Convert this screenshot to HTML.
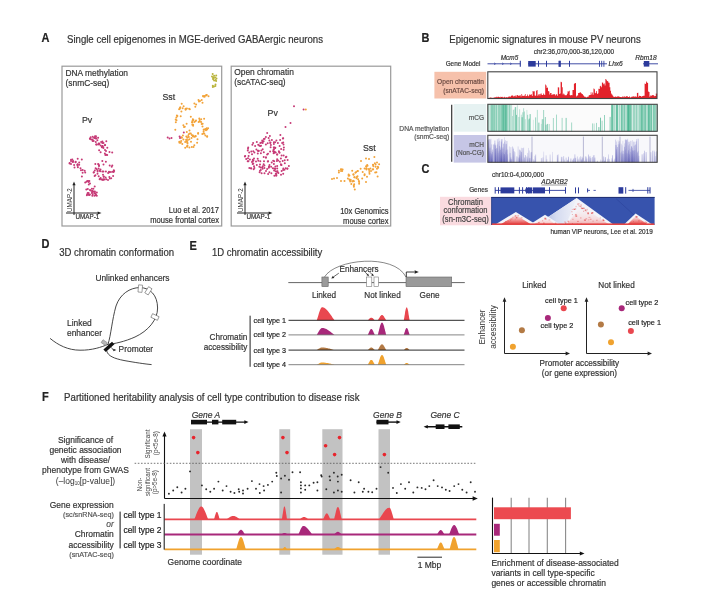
<!DOCTYPE html><html><head><meta charset="utf-8"><style>html,body{margin:0;padding:0;background:#fff;width:709px;height:600px;overflow:hidden}</style></head><body><svg width="709" height="600" viewBox="0 0 709 600" style="display:block;font-family:'Liberation Sans', sans-serif;filter:blur(0.35px)">
<rect width="709" height="600" fill="#fff"/>
<text x="41.5" y="42" font-size="11" text-anchor="start" fill="#222" stroke="#222" stroke-width="0.18" font-weight="bold" font-style="normal" transform="translate(0 42) scale(1 1.08) translate(0 -42)" >A</text>
<text x="67" y="43" font-size="9.6" text-anchor="start" fill="#333333" stroke="#333333" stroke-width="0.18" font-weight="normal" font-style="normal" transform="translate(0 43) scale(1 1.08) translate(0 -43)"  textLength="256" lengthAdjust="spacingAndGlyphs">Single cell epigenomes in MGE-derived GABAergic neurons</text>
<rect x="62" y="66.2" width="159.7" height="159.8" fill="none" stroke="#9a9a9a" stroke-width="1.2" />
<rect x="231.2" y="66.2" width="159.5" height="159.8" fill="none" stroke="#9a9a9a" stroke-width="1.2" />
<text x="65.5" y="75.8" font-size="8.4" text-anchor="start" fill="#333333" stroke="#333333" stroke-width="0.18" font-weight="normal" font-style="normal" transform="translate(0 75.8) scale(1 1.08) translate(0 -75.8)" >DNA methylation</text>
<text x="65.5" y="85.8" font-size="8.4" text-anchor="start" fill="#333333" stroke="#333333" stroke-width="0.18" font-weight="normal" font-style="normal" transform="translate(0 85.8) scale(1 1.08) translate(0 -85.8)" >(snmC-seq)</text>
<text x="234.2" y="75" font-size="8.4" text-anchor="start" fill="#333333" stroke="#333333" stroke-width="0.18" font-weight="normal" font-style="normal" transform="translate(0 75) scale(1 1.08) translate(0 -75)" >Open chromatin</text>
<text x="234.2" y="85.2" font-size="8.4" text-anchor="start" fill="#333333" stroke="#333333" stroke-width="0.18" font-weight="normal" font-style="normal" transform="translate(0 85.2) scale(1 1.08) translate(0 -85.2)" >(scATAC-seq)</text>
<text x="162.4" y="100" font-size="8.8" text-anchor="start" fill="#333333" stroke="#333333" stroke-width="0.18" font-weight="normal" font-style="normal" transform="translate(0 100) scale(1 1.08) translate(0 -100)" >Sst</text>
<text x="82" y="123.5" font-size="8.8" text-anchor="start" fill="#333333" stroke="#333333" stroke-width="0.18" font-weight="normal" font-style="normal" transform="translate(0 123.5) scale(1 1.08) translate(0 -123.5)" >Pv</text>
<text x="267.6" y="115.6" font-size="8.8" text-anchor="start" fill="#333333" stroke="#333333" stroke-width="0.18" font-weight="normal" font-style="normal" transform="translate(0 115.6) scale(1 1.08) translate(0 -115.6)" >Pv</text>
<text x="363" y="151" font-size="8.8" text-anchor="start" fill="#333333" stroke="#333333" stroke-width="0.18" font-weight="normal" font-style="normal" transform="translate(0 151) scale(1 1.08) translate(0 -151)" >Sst</text>
<text x="219" y="212.7" font-size="7.6" text-anchor="end" fill="#333333" stroke="#333333" stroke-width="0.18" font-weight="normal" font-style="normal" transform="translate(0 212.7) scale(1 1.08) translate(0 -212.7)" >Luo et al. 2017</text>
<text x="219" y="222.7" font-size="7.6" text-anchor="end" fill="#333333" stroke="#333333" stroke-width="0.18" font-weight="normal" font-style="normal" transform="translate(0 222.7) scale(1 1.08) translate(0 -222.7)" >mouse frontal cortex</text>
<text x="388.6" y="214.2" font-size="7.6" text-anchor="end" fill="#333333" stroke="#333333" stroke-width="0.18" font-weight="normal" font-style="normal" transform="translate(0 214.2) scale(1 1.08) translate(0 -214.2)" >10x Genomics</text>
<text x="388.6" y="223.6" font-size="7.6" text-anchor="end" fill="#333333" stroke="#333333" stroke-width="0.18" font-weight="normal" font-style="normal" transform="translate(0 223.6) scale(1 1.08) translate(0 -223.6)" >mouse cortex</text>
<line x1="74" y1="215" x2="74" y2="184" stroke="#222" stroke-width="1" />
<polygon points="74.0,181.5 72.4,185.3 75.6,185.3" fill="#222"/>
<line x1="66" y1="213" x2="99" y2="213" stroke="#222" stroke-width="1" />
<polygon points="101.5,213.0 97.7,211.4 97.7,214.6" fill="#222"/>
<text x="75.5" y="219.2" font-size="6.3" text-anchor="start" fill="#333333" stroke="#333333" stroke-width="0.18" font-weight="normal" font-style="normal" transform="translate(0 219.2) scale(1 1.08) translate(0 -219.2)" >UMAP-1</text>
<text x="72" y="212" font-size="6.3" fill="#333333" transform="rotate(-90 72 212)">UMAP-2</text>
<line x1="245" y1="215" x2="245" y2="184" stroke="#222" stroke-width="1" />
<polygon points="245.0,181.5 243.4,185.3 246.6,185.3" fill="#222"/>
<line x1="237" y1="213" x2="270" y2="213" stroke="#222" stroke-width="1" />
<polygon points="272.5,213.0 268.7,211.4 268.7,214.6" fill="#222"/>
<text x="246.5" y="219.2" font-size="6.3" text-anchor="start" fill="#333333" stroke="#333333" stroke-width="0.18" font-weight="normal" font-style="normal" transform="translate(0 219.2) scale(1 1.08) translate(0 -219.2)" >UMAP-1</text>
<text x="243" y="212" font-size="6.3" fill="#333333" transform="rotate(-90 243 212)">UMAP-2</text>
<circle cx="92.7" cy="136.8" r="1.0" fill="#c63a76"/>
<circle cx="96.0" cy="136.3" r="1.0" fill="#c63a76"/>
<circle cx="94.9" cy="138.1" r="1.0" fill="#c63a76"/>
<circle cx="90.1" cy="139.0" r="1.0" fill="#c63a76"/>
<circle cx="89.9" cy="138.6" r="1.0" fill="#c63a76"/>
<circle cx="93.7" cy="141.1" r="1.0" fill="#c63a76"/>
<circle cx="90.7" cy="137.2" r="1.0" fill="#c63a76"/>
<circle cx="95.8" cy="141.9" r="1.0" fill="#c63a76"/>
<circle cx="95.3" cy="138.3" r="1.0" fill="#c63a76"/>
<circle cx="98.1" cy="137.7" r="1.0" fill="#c63a76"/>
<circle cx="92.6" cy="141.0" r="1.0" fill="#c63a76"/>
<circle cx="91.3" cy="139.5" r="1.0" fill="#c63a76"/>
<circle cx="95.9" cy="138.2" r="1.0" fill="#c63a76"/>
<circle cx="95.0" cy="136.2" r="1.0" fill="#c63a76"/>
<circle cx="96.3" cy="138.5" r="1.0" fill="#c63a76"/>
<circle cx="92.6" cy="139.5" r="1.0" fill="#c63a76"/>
<circle cx="94.0" cy="137.7" r="1.0" fill="#c63a76"/>
<circle cx="97.4" cy="140.3" r="1.0" fill="#c63a76"/>
<circle cx="102.3" cy="143.1" r="1.0" fill="#c63a76"/>
<circle cx="103.5" cy="143.0" r="1.0" fill="#c63a76"/>
<circle cx="101.9" cy="147.2" r="1.0" fill="#c63a76"/>
<circle cx="105.0" cy="150.1" r="1.0" fill="#c63a76"/>
<circle cx="109.5" cy="152.0" r="1.0" fill="#c63a76"/>
<circle cx="105.1" cy="145.0" r="1.0" fill="#c63a76"/>
<circle cx="103.2" cy="147.3" r="1.0" fill="#c63a76"/>
<circle cx="112.2" cy="152.4" r="1.0" fill="#c63a76"/>
<circle cx="102.0" cy="146.3" r="1.0" fill="#c63a76"/>
<circle cx="98.9" cy="144.1" r="1.0" fill="#c63a76"/>
<circle cx="99.1" cy="143.8" r="1.0" fill="#c63a76"/>
<circle cx="102.3" cy="146.7" r="1.0" fill="#c63a76"/>
<circle cx="104.9" cy="153.5" r="1.0" fill="#c63a76"/>
<circle cx="106.3" cy="154.7" r="1.0" fill="#c63a76"/>
<circle cx="99.4" cy="143.7" r="1.0" fill="#c63a76"/>
<circle cx="100.5" cy="145.6" r="1.0" fill="#c63a76"/>
<circle cx="106.3" cy="141.2" r="1.0" fill="#c63a76"/>
<circle cx="107.3" cy="147.7" r="1.0" fill="#c63a76"/>
<circle cx="105.4" cy="154.9" r="1.0" fill="#c63a76"/>
<circle cx="104.8" cy="145.3" r="1.0" fill="#c63a76"/>
<circle cx="96.5" cy="144.5" r="1.0" fill="#c63a76"/>
<circle cx="96.2" cy="144.4" r="1.0" fill="#c63a76"/>
<circle cx="98.7" cy="143.4" r="1.0" fill="#c63a76"/>
<circle cx="101.1" cy="142.1" r="1.0" fill="#c63a76"/>
<circle cx="99.1" cy="150.3" r="1.0" fill="#c63a76"/>
<circle cx="103.4" cy="148.1" r="1.0" fill="#c63a76"/>
<circle cx="102.6" cy="146.0" r="1.0" fill="#c63a76"/>
<circle cx="107.2" cy="155.1" r="1.0" fill="#c63a76"/>
<circle cx="100.6" cy="152.3" r="1.0" fill="#c63a76"/>
<circle cx="106.0" cy="151.1" r="1.0" fill="#c63a76"/>
<circle cx="98.1" cy="144.6" r="1.0" fill="#c63a76"/>
<circle cx="102.4" cy="141.4" r="1.0" fill="#c63a76"/>
<circle cx="109.9" cy="178.5" r="1.0" fill="#c63a76"/>
<circle cx="109.4" cy="177.1" r="1.0" fill="#c63a76"/>
<circle cx="97.5" cy="170.2" r="1.0" fill="#c63a76"/>
<circle cx="102.3" cy="161.1" r="1.0" fill="#c63a76"/>
<circle cx="97.5" cy="173.7" r="1.0" fill="#c63a76"/>
<circle cx="113.6" cy="172.0" r="1.0" fill="#c63a76"/>
<circle cx="113.8" cy="170.3" r="1.0" fill="#c63a76"/>
<circle cx="98.6" cy="164.4" r="1.0" fill="#c63a76"/>
<circle cx="98.1" cy="163.9" r="1.0" fill="#c63a76"/>
<circle cx="104.6" cy="179.4" r="1.0" fill="#c63a76"/>
<circle cx="110.9" cy="172.1" r="1.0" fill="#c63a76"/>
<circle cx="105.6" cy="177.5" r="1.0" fill="#c63a76"/>
<circle cx="93.9" cy="172.3" r="1.0" fill="#c63a76"/>
<circle cx="111.2" cy="178.3" r="1.0" fill="#c63a76"/>
<circle cx="109.0" cy="171.7" r="1.0" fill="#c63a76"/>
<circle cx="95.4" cy="175.3" r="1.0" fill="#c63a76"/>
<circle cx="98.7" cy="176.2" r="1.0" fill="#c63a76"/>
<circle cx="114.1" cy="171.0" r="1.0" fill="#c63a76"/>
<circle cx="99.6" cy="179.3" r="1.0" fill="#c63a76"/>
<circle cx="109.7" cy="165.5" r="1.0" fill="#c63a76"/>
<circle cx="94.6" cy="175.9" r="1.0" fill="#c63a76"/>
<circle cx="100.1" cy="171.3" r="1.0" fill="#c63a76"/>
<circle cx="113.1" cy="176.0" r="1.0" fill="#c63a76"/>
<circle cx="102.4" cy="179.6" r="1.0" fill="#c63a76"/>
<circle cx="100.6" cy="178.0" r="1.0" fill="#c63a76"/>
<circle cx="111.7" cy="166.8" r="1.0" fill="#c63a76"/>
<circle cx="99.0" cy="165.9" r="1.0" fill="#c63a76"/>
<circle cx="97.6" cy="171.6" r="1.0" fill="#c63a76"/>
<circle cx="98.6" cy="168.4" r="1.0" fill="#c63a76"/>
<circle cx="100.5" cy="169.5" r="1.0" fill="#c63a76"/>
<circle cx="103.7" cy="179.3" r="1.0" fill="#c63a76"/>
<circle cx="100.1" cy="178.8" r="1.0" fill="#c63a76"/>
<circle cx="103.4" cy="171.6" r="1.0" fill="#c63a76"/>
<circle cx="105.9" cy="161.7" r="1.0" fill="#c63a76"/>
<circle cx="103.5" cy="164.5" r="1.0" fill="#c63a76"/>
<circle cx="96.5" cy="169.0" r="1.0" fill="#c63a76"/>
<circle cx="108.1" cy="173.1" r="1.0" fill="#c63a76"/>
<circle cx="99.7" cy="170.6" r="1.0" fill="#c63a76"/>
<circle cx="103.6" cy="176.8" r="1.0" fill="#c63a76"/>
<circle cx="94.8" cy="170.5" r="1.0" fill="#c63a76"/>
<circle cx="99.0" cy="165.5" r="1.0" fill="#c63a76"/>
<circle cx="109.3" cy="172.3" r="1.0" fill="#c63a76"/>
<circle cx="103.8" cy="176.4" r="1.0" fill="#c63a76"/>
<circle cx="112.6" cy="171.7" r="1.0" fill="#c63a76"/>
<circle cx="105.9" cy="171.6" r="1.0" fill="#c63a76"/>
<circle cx="103.0" cy="174.8" r="1.0" fill="#c63a76"/>
<circle cx="102.3" cy="171.4" r="1.0" fill="#c63a76"/>
<circle cx="101.3" cy="179.6" r="1.0" fill="#c63a76"/>
<circle cx="106.3" cy="179.3" r="1.0" fill="#c63a76"/>
<circle cx="103.0" cy="179.9" r="1.0" fill="#c63a76"/>
<circle cx="112.3" cy="165.4" r="1.0" fill="#c63a76"/>
<circle cx="95.6" cy="168.2" r="1.0" fill="#c63a76"/>
<circle cx="95.3" cy="164.0" r="1.0" fill="#c63a76"/>
<circle cx="93.6" cy="172.5" r="1.0" fill="#c63a76"/>
<circle cx="108.0" cy="180.0" r="1.0" fill="#c63a76"/>
<circle cx="73.0" cy="162.0" r="1.0" fill="#c63a76"/>
<circle cx="81.9" cy="176.6" r="1.0" fill="#c63a76"/>
<circle cx="81.8" cy="159.4" r="1.0" fill="#c63a76"/>
<circle cx="77.7" cy="164.3" r="1.0" fill="#c63a76"/>
<circle cx="75.7" cy="161.8" r="1.0" fill="#c63a76"/>
<circle cx="77.6" cy="165.8" r="1.0" fill="#c63a76"/>
<circle cx="80.5" cy="168.2" r="1.0" fill="#c63a76"/>
<circle cx="85.2" cy="172.6" r="1.0" fill="#c63a76"/>
<circle cx="71.0" cy="161.1" r="1.0" fill="#c63a76"/>
<circle cx="82.6" cy="172.8" r="1.0" fill="#c63a76"/>
<circle cx="71.0" cy="163.9" r="1.0" fill="#c63a76"/>
<circle cx="72.3" cy="159.4" r="1.0" fill="#c63a76"/>
<circle cx="69.6" cy="163.5" r="1.0" fill="#c63a76"/>
<circle cx="84.7" cy="170.8" r="1.0" fill="#c63a76"/>
<circle cx="79.2" cy="164.7" r="1.0" fill="#c63a76"/>
<circle cx="73.1" cy="160.9" r="1.0" fill="#c63a76"/>
<circle cx="72.4" cy="161.8" r="1.0" fill="#c63a76"/>
<circle cx="74.1" cy="164.9" r="1.0" fill="#c63a76"/>
<circle cx="77.9" cy="167.3" r="1.0" fill="#c63a76"/>
<circle cx="71.0" cy="159.7" r="1.0" fill="#c63a76"/>
<circle cx="77.7" cy="158.7" r="1.0" fill="#c63a76"/>
<circle cx="74.5" cy="167.6" r="1.0" fill="#c63a76"/>
<circle cx="79.2" cy="162.5" r="1.0" fill="#c63a76"/>
<circle cx="82.7" cy="169.9" r="1.0" fill="#c63a76"/>
<circle cx="77.3" cy="164.8" r="1.0" fill="#c63a76"/>
<circle cx="81.0" cy="170.3" r="1.0" fill="#c63a76"/>
<circle cx="69.6" cy="162.9" r="1.0" fill="#c63a76"/>
<circle cx="75.5" cy="162.2" r="1.0" fill="#c63a76"/>
<circle cx="90.0" cy="183.5" r="1.0" fill="#c63a76"/>
<circle cx="91.9" cy="188.7" r="1.0" fill="#c63a76"/>
<circle cx="88.8" cy="184.5" r="1.0" fill="#c63a76"/>
<circle cx="87.8" cy="188.9" r="1.0" fill="#c63a76"/>
<circle cx="87.3" cy="180.9" r="1.0" fill="#c63a76"/>
<circle cx="86.5" cy="181.8" r="1.0" fill="#c63a76"/>
<circle cx="94.7" cy="186.5" r="1.0" fill="#c63a76"/>
<circle cx="94.9" cy="191.4" r="1.0" fill="#c63a76"/>
<circle cx="89.9" cy="194.6" r="1.0" fill="#c63a76"/>
<circle cx="92.5" cy="191.2" r="1.0" fill="#c63a76"/>
<circle cx="90.0" cy="190.1" r="1.0" fill="#c63a76"/>
<circle cx="92.1" cy="190.8" r="1.0" fill="#c63a76"/>
<circle cx="86.3" cy="189.5" r="1.0" fill="#c63a76"/>
<circle cx="89.4" cy="180.9" r="1.0" fill="#c63a76"/>
<circle cx="85.2" cy="182.6" r="1.0" fill="#c63a76"/>
<circle cx="93.4" cy="188.8" r="1.0" fill="#c63a76"/>
<circle cx="90.6" cy="190.6" r="1.0" fill="#c63a76"/>
<circle cx="88.2" cy="181.1" r="1.0" fill="#c63a76"/>
<circle cx="88.6" cy="182.0" r="1.0" fill="#c63a76"/>
<circle cx="86.9" cy="195.2" r="1.0" fill="#c63a76"/>
<circle cx="92.3" cy="195.7" r="1.0" fill="#c63a76"/>
<circle cx="95.4" cy="195.2" r="1.0" fill="#c63a76"/>
<circle cx="94.1" cy="191.8" r="1.0" fill="#c63a76"/>
<circle cx="88.6" cy="192.9" r="1.0" fill="#c63a76"/>
<circle cx="95.2" cy="193.2" r="1.0" fill="#c63a76"/>
<circle cx="93.2" cy="191.4" r="1.0" fill="#c63a76"/>
<circle cx="87.7" cy="193.0" r="1.0" fill="#c63a76"/>
<circle cx="94.4" cy="195.7" r="1.0" fill="#c63a76"/>
<circle cx="94.4" cy="193.2" r="1.0" fill="#c63a76"/>
<circle cx="92.7" cy="194.3" r="1.0" fill="#c63a76"/>
<circle cx="92.1" cy="192.1" r="1.0" fill="#c63a76"/>
<circle cx="96.8" cy="192.6" r="1.0" fill="#c63a76"/>
<circle cx="87.2" cy="194.2" r="1.0" fill="#c63a76"/>
<circle cx="91.9" cy="193.0" r="1.0" fill="#c63a76"/>
<circle cx="89.3" cy="195.0" r="1.0" fill="#c63a76"/>
<circle cx="88.6" cy="194.7" r="1.0" fill="#c63a76"/>
<circle cx="96.0" cy="194.6" r="1.0" fill="#c63a76"/>
<circle cx="96.8" cy="195.8" r="1.0" fill="#c63a76"/>
<circle cx="213.0" cy="78.1" r="1.0" fill="#b9b43c"/>
<circle cx="216.1" cy="80.9" r="1.0" fill="#b9b43c"/>
<circle cx="214.1" cy="75.7" r="1.0" fill="#b9b43c"/>
<circle cx="215.5" cy="84.4" r="1.0" fill="#b9b43c"/>
<circle cx="212.8" cy="87.0" r="1.0" fill="#b9b43c"/>
<circle cx="215.7" cy="80.1" r="1.0" fill="#b9b43c"/>
<circle cx="216.5" cy="78.6" r="1.0" fill="#b9b43c"/>
<circle cx="214.0" cy="86.6" r="1.0" fill="#b9b43c"/>
<circle cx="215.2" cy="77.6" r="1.0" fill="#b9b43c"/>
<circle cx="212.8" cy="85.7" r="1.0" fill="#b9b43c"/>
<circle cx="214.1" cy="80.5" r="1.0" fill="#b9b43c"/>
<circle cx="212.7" cy="74.0" r="1.0" fill="#b9b43c"/>
<circle cx="215.4" cy="86.1" r="1.0" fill="#b9b43c"/>
<circle cx="212.0" cy="76.6" r="1.0" fill="#b9b43c"/>
<circle cx="213.8" cy="77.9" r="1.0" fill="#b9b43c"/>
<circle cx="213.1" cy="79.2" r="1.0" fill="#b9b43c"/>
<circle cx="213.5" cy="77.2" r="1.0" fill="#b9b43c"/>
<circle cx="216.2" cy="75.6" r="1.0" fill="#b9b43c"/>
<circle cx="201.7" cy="100.1" r="1.0" fill="#f2a33a"/>
<circle cx="206.0" cy="95.6" r="1.0" fill="#f2a33a"/>
<circle cx="198.5" cy="100.0" r="1.0" fill="#f2a33a"/>
<circle cx="200.0" cy="100.9" r="1.0" fill="#f2a33a"/>
<circle cx="208.5" cy="96.2" r="1.0" fill="#f2a33a"/>
<circle cx="199.0" cy="101.4" r="1.0" fill="#f2a33a"/>
<circle cx="204.6" cy="96.8" r="1.0" fill="#f2a33a"/>
<circle cx="196.1" cy="104.4" r="1.0" fill="#f2a33a"/>
<circle cx="206.7" cy="94.9" r="1.0" fill="#f2a33a"/>
<circle cx="206.5" cy="95.1" r="1.0" fill="#f2a33a"/>
<circle cx="194.4" cy="103.4" r="1.0" fill="#f2a33a"/>
<circle cx="204.4" cy="95.9" r="1.0" fill="#f2a33a"/>
<circle cx="195.3" cy="106.8" r="1.0" fill="#f2a33a"/>
<circle cx="202.5" cy="102.7" r="1.0" fill="#f2a33a"/>
<circle cx="203.0" cy="96.1" r="1.0" fill="#f2a33a"/>
<circle cx="203.4" cy="96.6" r="1.0" fill="#f2a33a"/>
<circle cx="179.1" cy="109.3" r="1.0" fill="#f2a33a"/>
<circle cx="180.3" cy="107.3" r="1.0" fill="#f2a33a"/>
<circle cx="181.7" cy="103.8" r="1.0" fill="#f2a33a"/>
<circle cx="183.6" cy="106.2" r="1.0" fill="#f2a33a"/>
<circle cx="189.1" cy="108.7" r="1.0" fill="#f2a33a"/>
<circle cx="185.6" cy="108.8" r="1.0" fill="#f2a33a"/>
<circle cx="185.6" cy="109.7" r="1.0" fill="#f2a33a"/>
<circle cx="182.6" cy="108.2" r="1.0" fill="#f2a33a"/>
<circle cx="186.9" cy="108.6" r="1.0" fill="#f2a33a"/>
<circle cx="181.4" cy="111.6" r="1.0" fill="#f2a33a"/>
<circle cx="179.8" cy="108.8" r="1.0" fill="#f2a33a"/>
<circle cx="179.9" cy="108.1" r="1.0" fill="#f2a33a"/>
<circle cx="185.7" cy="108.9" r="1.0" fill="#f2a33a"/>
<circle cx="189.8" cy="109.3" r="1.0" fill="#f2a33a"/>
<circle cx="180.7" cy="116.2" r="1.0" fill="#f2a33a"/>
<circle cx="175.3" cy="129.7" r="1.0" fill="#f2a33a"/>
<circle cx="176.4" cy="117.4" r="1.0" fill="#f2a33a"/>
<circle cx="176.5" cy="120.3" r="1.0" fill="#f2a33a"/>
<circle cx="177.4" cy="115.9" r="1.0" fill="#f2a33a"/>
<circle cx="176.9" cy="115.5" r="1.0" fill="#f2a33a"/>
<circle cx="175.7" cy="119.4" r="1.0" fill="#f2a33a"/>
<circle cx="175.8" cy="122.3" r="1.0" fill="#f2a33a"/>
<circle cx="195.4" cy="121.3" r="1.0" fill="#f2a33a"/>
<circle cx="189.5" cy="130.6" r="1.0" fill="#f2a33a"/>
<circle cx="190.8" cy="116.7" r="1.0" fill="#f2a33a"/>
<circle cx="186.8" cy="132.0" r="1.0" fill="#f2a33a"/>
<circle cx="189.8" cy="133.4" r="1.0" fill="#f2a33a"/>
<circle cx="194.3" cy="122.0" r="1.0" fill="#f2a33a"/>
<circle cx="190.8" cy="133.5" r="1.0" fill="#f2a33a"/>
<circle cx="192.3" cy="124.7" r="1.0" fill="#f2a33a"/>
<circle cx="192.2" cy="122.4" r="1.0" fill="#f2a33a"/>
<circle cx="192.8" cy="119.3" r="1.0" fill="#f2a33a"/>
<circle cx="203.6" cy="129.8" r="1.0" fill="#f2a33a"/>
<circle cx="201.1" cy="122.1" r="1.0" fill="#f2a33a"/>
<circle cx="201.2" cy="119.2" r="1.0" fill="#f2a33a"/>
<circle cx="202.5" cy="126.5" r="1.0" fill="#f2a33a"/>
<circle cx="203.6" cy="131.5" r="1.0" fill="#f2a33a"/>
<circle cx="202.6" cy="123.8" r="1.0" fill="#f2a33a"/>
<circle cx="204.1" cy="118.7" r="1.0" fill="#f2a33a"/>
<circle cx="207.1" cy="129.4" r="1.0" fill="#f2a33a"/>
<circle cx="205.9" cy="129.5" r="1.0" fill="#f2a33a"/>
<circle cx="199.6" cy="120.0" r="1.0" fill="#f2a33a"/>
<circle cx="199.3" cy="118.5" r="1.0" fill="#f2a33a"/>
<circle cx="203.6" cy="133.3" r="1.0" fill="#f2a33a"/>
<circle cx="207.2" cy="136.3" r="1.0" fill="#f2a33a"/>
<circle cx="205.4" cy="135.4" r="1.0" fill="#f2a33a"/>
<circle cx="205.5" cy="128.9" r="1.0" fill="#f2a33a"/>
<circle cx="202.3" cy="134.0" r="1.0" fill="#f2a33a"/>
<circle cx="207.1" cy="136.8" r="1.0" fill="#f2a33a"/>
<circle cx="208.1" cy="128.3" r="1.0" fill="#f2a33a"/>
<circle cx="206.0" cy="130.2" r="1.0" fill="#f2a33a"/>
<circle cx="204.3" cy="133.8" r="1.0" fill="#f2a33a"/>
<circle cx="206.7" cy="128.2" r="1.0" fill="#f2a33a"/>
<circle cx="204.2" cy="129.5" r="1.0" fill="#f2a33a"/>
<circle cx="186.9" cy="141.8" r="1.0" fill="#f2a33a"/>
<circle cx="191.8" cy="134.9" r="1.0" fill="#f2a33a"/>
<circle cx="182.3" cy="143.9" r="1.0" fill="#f2a33a"/>
<circle cx="187.2" cy="137.7" r="1.0" fill="#f2a33a"/>
<circle cx="185.2" cy="147.8" r="1.0" fill="#f2a33a"/>
<circle cx="185.2" cy="142.0" r="1.0" fill="#f2a33a"/>
<circle cx="186.1" cy="139.7" r="1.0" fill="#f2a33a"/>
<circle cx="186.3" cy="136.5" r="1.0" fill="#f2a33a"/>
<circle cx="193.6" cy="136.6" r="1.0" fill="#f2a33a"/>
<circle cx="187.5" cy="145.8" r="1.0" fill="#f2a33a"/>
<circle cx="187.1" cy="146.7" r="1.0" fill="#f2a33a"/>
<circle cx="188.2" cy="135.9" r="1.0" fill="#f2a33a"/>
<circle cx="179.3" cy="141.8" r="1.0" fill="#f2a33a"/>
<circle cx="191.8" cy="147.1" r="1.0" fill="#f2a33a"/>
<circle cx="180.8" cy="142.8" r="1.0" fill="#f2a33a"/>
<circle cx="186.4" cy="141.1" r="1.0" fill="#f2a33a"/>
<circle cx="181.9" cy="137.7" r="1.0" fill="#f2a33a"/>
<circle cx="189.4" cy="147.4" r="1.0" fill="#f2a33a"/>
<circle cx="181.2" cy="140.9" r="1.0" fill="#f2a33a"/>
<circle cx="182.9" cy="135.4" r="1.0" fill="#f2a33a"/>
<circle cx="188.7" cy="134.3" r="1.0" fill="#f2a33a"/>
<circle cx="197.5" cy="139.3" r="1.0" fill="#f2a33a"/>
<circle cx="197.1" cy="142.8" r="1.0" fill="#f2a33a"/>
<circle cx="195.5" cy="135.9" r="1.0" fill="#f2a33a"/>
<circle cx="194.7" cy="136.8" r="1.0" fill="#f2a33a"/>
<circle cx="187.1" cy="146.2" r="1.0" fill="#f2a33a"/>
<circle cx="195.6" cy="136.2" r="1.0" fill="#f2a33a"/>
<circle cx="183.4" cy="139.5" r="1.0" fill="#f2a33a"/>
<circle cx="189.4" cy="139.3" r="1.0" fill="#f2a33a"/>
<circle cx="181.5" cy="137.2" r="1.0" fill="#f2a33a"/>
<circle cx="193.5" cy="147.0" r="1.0" fill="#f2a33a"/>
<circle cx="179.8" cy="141.9" r="1.0" fill="#f2a33a"/>
<circle cx="191.0" cy="141.8" r="1.0" fill="#f2a33a"/>
<circle cx="191.5" cy="138.1" r="1.0" fill="#f2a33a"/>
<circle cx="187.4" cy="142.2" r="1.0" fill="#f2a33a"/>
<circle cx="187.5" cy="143.4" r="1.0" fill="#f2a33a"/>
<circle cx="187.9" cy="140.1" r="1.0" fill="#f2a33a"/>
<circle cx="179.5" cy="142.8" r="1.0" fill="#f2a33a"/>
<circle cx="188.8" cy="137.0" r="1.0" fill="#f2a33a"/>
<circle cx="194.3" cy="145.2" r="1.0" fill="#f2a33a"/>
<circle cx="192.1" cy="122.2" r="1.0" fill="#f2a33a"/>
<circle cx="192.4" cy="120.9" r="1.0" fill="#f2a33a"/>
<circle cx="184.8" cy="126.8" r="1.0" fill="#f2a33a"/>
<circle cx="184.0" cy="127.0" r="1.0" fill="#f2a33a"/>
<circle cx="193.2" cy="119.7" r="1.0" fill="#f2a33a"/>
<circle cx="196.0" cy="120.5" r="1.0" fill="#f2a33a"/>
<circle cx="198.1" cy="133.0" r="1.0" fill="#f2a33a"/>
<circle cx="193.3" cy="120.0" r="1.0" fill="#f2a33a"/>
<circle cx="193.1" cy="125.8" r="1.0" fill="#f2a33a"/>
<circle cx="198.1" cy="133.7" r="1.0" fill="#f2a33a"/>
<circle cx="192.8" cy="136.2" r="1.0" fill="#f2a33a"/>
<circle cx="183.4" cy="125.3" r="1.0" fill="#f2a33a"/>
<circle cx="198.6" cy="121.9" r="1.0" fill="#f2a33a"/>
<circle cx="201.7" cy="123.9" r="1.0" fill="#f2a33a"/>
<circle cx="199.9" cy="121.6" r="1.0" fill="#f2a33a"/>
<circle cx="193.0" cy="135.6" r="1.0" fill="#f2a33a"/>
<circle cx="186.6" cy="123.7" r="1.0" fill="#f2a33a"/>
<circle cx="193.1" cy="124.7" r="1.0" fill="#f2a33a"/>
<circle cx="167.7" cy="137.5" r="1.0" fill="#c63a76"/>
<circle cx="169.5" cy="138.5" r="1.0" fill="#c63a76"/>
<circle cx="171.5" cy="138.0" r="1.0" fill="#c63a76"/>
<circle cx="179.6" cy="136.6" r="1.0" fill="#c63a76"/>
<circle cx="180.0" cy="138.0" r="1.0" fill="#c63a76"/>
<circle cx="183.8" cy="132.4" r="1.0" fill="#c63a76"/>
<circle cx="276.3" cy="173.9" r="1.0" fill="#c63a76"/>
<circle cx="251.3" cy="168.5" r="1.0" fill="#c63a76"/>
<circle cx="248.6" cy="156.0" r="1.0" fill="#c63a76"/>
<circle cx="274.2" cy="147.6" r="1.0" fill="#c63a76"/>
<circle cx="285.8" cy="157.2" r="1.0" fill="#c63a76"/>
<circle cx="271.4" cy="173.2" r="1.0" fill="#c63a76"/>
<circle cx="273.9" cy="149.3" r="1.0" fill="#c63a76"/>
<circle cx="282.1" cy="143.0" r="1.0" fill="#c63a76"/>
<circle cx="260.7" cy="167.5" r="1.0" fill="#c63a76"/>
<circle cx="264.7" cy="138.7" r="1.0" fill="#c63a76"/>
<circle cx="283.2" cy="142.4" r="1.0" fill="#c63a76"/>
<circle cx="271.7" cy="162.5" r="1.0" fill="#c63a76"/>
<circle cx="273.2" cy="151.2" r="1.0" fill="#c63a76"/>
<circle cx="268.1" cy="173.9" r="1.0" fill="#c63a76"/>
<circle cx="248.2" cy="147.5" r="1.0" fill="#c63a76"/>
<circle cx="254.0" cy="158.6" r="1.0" fill="#c63a76"/>
<circle cx="271.9" cy="140.0" r="1.0" fill="#c63a76"/>
<circle cx="273.6" cy="153.3" r="1.0" fill="#c63a76"/>
<circle cx="247.7" cy="161.3" r="1.0" fill="#c63a76"/>
<circle cx="285.7" cy="168.3" r="1.0" fill="#c63a76"/>
<circle cx="262.7" cy="142.9" r="1.0" fill="#c63a76"/>
<circle cx="270.6" cy="147.2" r="1.0" fill="#c63a76"/>
<circle cx="274.6" cy="151.7" r="1.0" fill="#c63a76"/>
<circle cx="288.9" cy="165.9" r="1.0" fill="#c63a76"/>
<circle cx="245.2" cy="156.0" r="1.0" fill="#c63a76"/>
<circle cx="262.9" cy="141.6" r="1.0" fill="#c63a76"/>
<circle cx="252.8" cy="159.8" r="1.0" fill="#c63a76"/>
<circle cx="267.8" cy="161.4" r="1.0" fill="#c63a76"/>
<circle cx="282.9" cy="138.6" r="1.0" fill="#c63a76"/>
<circle cx="258.2" cy="144.7" r="1.0" fill="#c63a76"/>
<circle cx="281.4" cy="165.1" r="1.0" fill="#c63a76"/>
<circle cx="279.5" cy="152.8" r="1.0" fill="#c63a76"/>
<circle cx="279.3" cy="152.2" r="1.0" fill="#c63a76"/>
<circle cx="259.4" cy="166.7" r="1.0" fill="#c63a76"/>
<circle cx="277.1" cy="171.4" r="1.0" fill="#c63a76"/>
<circle cx="277.9" cy="143.0" r="1.0" fill="#c63a76"/>
<circle cx="270.1" cy="151.4" r="1.0" fill="#c63a76"/>
<circle cx="281.6" cy="155.6" r="1.0" fill="#c63a76"/>
<circle cx="256.0" cy="161.5" r="1.0" fill="#c63a76"/>
<circle cx="279.6" cy="146.0" r="1.0" fill="#c63a76"/>
<circle cx="273.9" cy="163.9" r="1.0" fill="#c63a76"/>
<circle cx="266.0" cy="171.1" r="1.0" fill="#c63a76"/>
<circle cx="277.2" cy="172.0" r="1.0" fill="#c63a76"/>
<circle cx="264.4" cy="165.5" r="1.0" fill="#c63a76"/>
<circle cx="270.9" cy="145.1" r="1.0" fill="#c63a76"/>
<circle cx="253.4" cy="160.5" r="1.0" fill="#c63a76"/>
<circle cx="276.9" cy="161.1" r="1.0" fill="#c63a76"/>
<circle cx="277.2" cy="166.1" r="1.0" fill="#c63a76"/>
<circle cx="246.2" cy="158.9" r="1.0" fill="#c63a76"/>
<circle cx="260.8" cy="170.1" r="1.0" fill="#c63a76"/>
<circle cx="283.2" cy="173.7" r="1.0" fill="#c63a76"/>
<circle cx="284.5" cy="169.8" r="1.0" fill="#c63a76"/>
<circle cx="274.1" cy="170.4" r="1.0" fill="#c63a76"/>
<circle cx="273.9" cy="144.1" r="1.0" fill="#c63a76"/>
<circle cx="280.1" cy="140.0" r="1.0" fill="#c63a76"/>
<circle cx="258.6" cy="150.8" r="1.0" fill="#c63a76"/>
<circle cx="256.8" cy="165.1" r="1.0" fill="#c63a76"/>
<circle cx="261.0" cy="145.7" r="1.0" fill="#c63a76"/>
<circle cx="284.7" cy="160.3" r="1.0" fill="#c63a76"/>
<circle cx="264.4" cy="167.9" r="1.0" fill="#c63a76"/>
<circle cx="260.0" cy="164.5" r="1.0" fill="#c63a76"/>
<circle cx="269.4" cy="140.6" r="1.0" fill="#c63a76"/>
<circle cx="283.2" cy="138.3" r="1.0" fill="#c63a76"/>
<circle cx="267.1" cy="169.0" r="1.0" fill="#c63a76"/>
<circle cx="252.0" cy="154.2" r="1.0" fill="#c63a76"/>
<circle cx="260.0" cy="170.8" r="1.0" fill="#c63a76"/>
<circle cx="277.3" cy="154.4" r="1.0" fill="#c63a76"/>
<circle cx="248.4" cy="161.2" r="1.0" fill="#c63a76"/>
<circle cx="277.2" cy="168.6" r="1.0" fill="#c63a76"/>
<circle cx="273.8" cy="147.4" r="1.0" fill="#c63a76"/>
<circle cx="262.7" cy="149.3" r="1.0" fill="#c63a76"/>
<circle cx="253.1" cy="142.9" r="1.0" fill="#c63a76"/>
<circle cx="261.6" cy="173.3" r="1.0" fill="#c63a76"/>
<circle cx="254.4" cy="152.6" r="1.0" fill="#c63a76"/>
<circle cx="269.0" cy="167.0" r="1.0" fill="#c63a76"/>
<circle cx="279.9" cy="161.7" r="1.0" fill="#c63a76"/>
<circle cx="260.1" cy="146.0" r="1.0" fill="#c63a76"/>
<circle cx="275.4" cy="166.4" r="1.0" fill="#c63a76"/>
<circle cx="251.3" cy="151.5" r="1.0" fill="#c63a76"/>
<circle cx="280.9" cy="158.4" r="1.0" fill="#c63a76"/>
<circle cx="249.2" cy="152.6" r="1.0" fill="#c63a76"/>
<circle cx="252.4" cy="144.8" r="1.0" fill="#c63a76"/>
<circle cx="277.5" cy="171.3" r="1.0" fill="#c63a76"/>
<circle cx="255.1" cy="146.0" r="1.0" fill="#c63a76"/>
<circle cx="268.6" cy="137.9" r="1.0" fill="#c63a76"/>
<circle cx="248.0" cy="148.8" r="1.0" fill="#c63a76"/>
<circle cx="278.9" cy="151.3" r="1.0" fill="#c63a76"/>
<circle cx="252.6" cy="161.3" r="1.0" fill="#c63a76"/>
<circle cx="262.6" cy="168.8" r="1.0" fill="#c63a76"/>
<circle cx="277.0" cy="154.5" r="1.0" fill="#c63a76"/>
<circle cx="274.0" cy="152.7" r="1.0" fill="#c63a76"/>
<circle cx="249.9" cy="159.6" r="1.0" fill="#c63a76"/>
<circle cx="262.8" cy="166.3" r="1.0" fill="#c63a76"/>
<circle cx="271.1" cy="166.7" r="1.0" fill="#c63a76"/>
<circle cx="263.6" cy="141.2" r="1.0" fill="#c63a76"/>
<circle cx="278.4" cy="173.1" r="1.0" fill="#c63a76"/>
<circle cx="280.9" cy="164.3" r="1.0" fill="#c63a76"/>
<circle cx="284.8" cy="163.3" r="1.0" fill="#c63a76"/>
<circle cx="274.4" cy="152.2" r="1.0" fill="#c63a76"/>
<circle cx="258.3" cy="160.8" r="1.0" fill="#c63a76"/>
<circle cx="247.8" cy="150.6" r="1.0" fill="#c63a76"/>
<circle cx="281.3" cy="164.9" r="1.0" fill="#c63a76"/>
<circle cx="273.9" cy="142.3" r="1.0" fill="#c63a76"/>
<circle cx="263.8" cy="152.3" r="1.0" fill="#c63a76"/>
<circle cx="273.5" cy="150.1" r="1.0" fill="#c63a76"/>
<circle cx="276.1" cy="175.6" r="1.0" fill="#c63a76"/>
<circle cx="252.0" cy="162.1" r="1.0" fill="#c63a76"/>
<circle cx="281.1" cy="149.0" r="1.0" fill="#c63a76"/>
<circle cx="244.9" cy="156.6" r="1.0" fill="#c63a76"/>
<circle cx="250.9" cy="168.3" r="1.0" fill="#c63a76"/>
<circle cx="248.0" cy="158.2" r="1.0" fill="#c63a76"/>
<circle cx="269.5" cy="165.1" r="1.0" fill="#c63a76"/>
<circle cx="268.1" cy="161.3" r="1.0" fill="#c63a76"/>
<circle cx="283.6" cy="155.6" r="1.0" fill="#c63a76"/>
<circle cx="253.3" cy="163.5" r="1.0" fill="#c63a76"/>
<circle cx="262.2" cy="167.4" r="1.0" fill="#c63a76"/>
<circle cx="256.4" cy="149.6" r="1.0" fill="#c63a76"/>
<circle cx="263.6" cy="164.2" r="1.0" fill="#c63a76"/>
<circle cx="260.3" cy="143.0" r="1.0" fill="#c63a76"/>
<circle cx="254.0" cy="166.3" r="1.0" fill="#c63a76"/>
<circle cx="253.7" cy="169.3" r="1.0" fill="#c63a76"/>
<circle cx="262.2" cy="140.4" r="1.0" fill="#c63a76"/>
<circle cx="249.3" cy="168.1" r="1.0" fill="#c63a76"/>
<circle cx="282.7" cy="161.1" r="1.0" fill="#c63a76"/>
<circle cx="266.0" cy="157.5" r="1.0" fill="#c63a76"/>
<circle cx="260.3" cy="161.3" r="1.0" fill="#c63a76"/>
<circle cx="283.1" cy="170.0" r="1.0" fill="#c63a76"/>
<circle cx="265.9" cy="144.4" r="1.0" fill="#c63a76"/>
<circle cx="269.9" cy="136.1" r="1.0" fill="#c63a76"/>
<circle cx="283.9" cy="147.4" r="1.0" fill="#c63a76"/>
<circle cx="261.4" cy="142.4" r="1.0" fill="#c63a76"/>
<circle cx="263.9" cy="139.1" r="1.0" fill="#c63a76"/>
<circle cx="256.8" cy="142.0" r="1.0" fill="#c63a76"/>
<circle cx="257.8" cy="153.5" r="1.0" fill="#c63a76"/>
<circle cx="264.0" cy="161.2" r="1.0" fill="#c63a76"/>
<circle cx="275.3" cy="147.8" r="1.0" fill="#c63a76"/>
<circle cx="287.4" cy="168.4" r="1.0" fill="#c63a76"/>
<circle cx="275.1" cy="142.3" r="1.0" fill="#c63a76"/>
<circle cx="254.4" cy="168.0" r="1.0" fill="#c63a76"/>
<circle cx="287.3" cy="168.8" r="1.0" fill="#c63a76"/>
<circle cx="272.8" cy="168.3" r="1.0" fill="#c63a76"/>
<circle cx="275.8" cy="173.8" r="1.0" fill="#c63a76"/>
<circle cx="281.6" cy="171.1" r="1.0" fill="#c63a76"/>
<circle cx="252.7" cy="163.9" r="1.0" fill="#c63a76"/>
<circle cx="269.0" cy="166.4" r="1.0" fill="#c63a76"/>
<circle cx="264.5" cy="173.3" r="1.0" fill="#c63a76"/>
<circle cx="270.2" cy="143.0" r="1.0" fill="#c63a76"/>
<circle cx="267.2" cy="132.9" r="1.0" fill="#c63a76"/>
<circle cx="265.9" cy="137.1" r="1.0" fill="#c63a76"/>
<circle cx="267.1" cy="154.4" r="1.0" fill="#c63a76"/>
<circle cx="269.4" cy="172.3" r="1.0" fill="#c63a76"/>
<circle cx="265.9" cy="157.6" r="1.0" fill="#c63a76"/>
<circle cx="275.6" cy="171.2" r="1.0" fill="#c63a76"/>
<circle cx="261.4" cy="150.5" r="1.0" fill="#c63a76"/>
<circle cx="274.2" cy="161.2" r="1.0" fill="#c63a76"/>
<circle cx="276.4" cy="175.6" r="1.0" fill="#c63a76"/>
<circle cx="268.0" cy="153.7" r="1.0" fill="#c63a76"/>
<circle cx="278.2" cy="160.6" r="1.0" fill="#c63a76"/>
<circle cx="259.6" cy="172.2" r="1.0" fill="#c63a76"/>
<circle cx="260.9" cy="153.3" r="1.0" fill="#c63a76"/>
<circle cx="268.8" cy="167.8" r="1.0" fill="#c63a76"/>
<circle cx="253.3" cy="151.3" r="1.0" fill="#c63a76"/>
<circle cx="263.7" cy="157.1" r="1.0" fill="#c63a76"/>
<circle cx="283.5" cy="144.4" r="1.0" fill="#c63a76"/>
<circle cx="283.6" cy="149.8" r="1.0" fill="#c63a76"/>
<circle cx="267.7" cy="143.3" r="1.0" fill="#c63a76"/>
<circle cx="275.1" cy="168.8" r="1.0" fill="#c63a76"/>
<circle cx="259.2" cy="145.5" r="1.0" fill="#c63a76"/>
<circle cx="257.7" cy="158.7" r="1.0" fill="#c63a76"/>
<circle cx="274.1" cy="168.4" r="1.0" fill="#c63a76"/>
<circle cx="286.4" cy="156.7" r="1.0" fill="#c63a76"/>
<circle cx="275.2" cy="168.7" r="1.0" fill="#c63a76"/>
<circle cx="287.6" cy="160.0" r="1.0" fill="#c63a76"/>
<circle cx="273.2" cy="160.7" r="1.0" fill="#c63a76"/>
<circle cx="277.1" cy="159.2" r="1.0" fill="#c63a76"/>
<circle cx="276.4" cy="140.4" r="1.0" fill="#c63a76"/>
<circle cx="275.7" cy="152.4" r="1.0" fill="#c63a76"/>
<circle cx="280.4" cy="135.0" r="1.0" fill="#c63a76"/>
<circle cx="281.0" cy="174.8" r="1.0" fill="#c63a76"/>
<circle cx="275.1" cy="148.1" r="1.0" fill="#c63a76"/>
<circle cx="283.3" cy="168.5" r="1.0" fill="#c63a76"/>
<circle cx="270.5" cy="142.6" r="1.0" fill="#c63a76"/>
<circle cx="257.8" cy="150.7" r="1.0" fill="#c63a76"/>
<circle cx="258.6" cy="151.1" r="1.0" fill="#c63a76"/>
<circle cx="274.4" cy="175.8" r="1.0" fill="#c63a76"/>
<circle cx="294.0" cy="106.3" r="1.0" fill="#c63a76"/>
<circle cx="290.5" cy="123.1" r="1.0" fill="#c63a76"/>
<circle cx="285.5" cy="127.0" r="1.0" fill="#c63a76"/>
<circle cx="303.6" cy="109.6" r="1.0" fill="#c63a76"/>
<circle cx="305.8" cy="109.6" r="1.0" fill="#f2a33a"/>
<circle cx="350.1" cy="179.8" r="1.0" fill="#f2a33a"/>
<circle cx="369.5" cy="173.7" r="1.0" fill="#f2a33a"/>
<circle cx="347.9" cy="178.5" r="1.0" fill="#f2a33a"/>
<circle cx="360.6" cy="168.7" r="1.0" fill="#f2a33a"/>
<circle cx="368.9" cy="169.0" r="1.0" fill="#f2a33a"/>
<circle cx="370.4" cy="168.6" r="1.0" fill="#f2a33a"/>
<circle cx="352.3" cy="181.5" r="1.0" fill="#f2a33a"/>
<circle cx="356.9" cy="177.1" r="1.0" fill="#f2a33a"/>
<circle cx="350.2" cy="181.5" r="1.0" fill="#f2a33a"/>
<circle cx="348.6" cy="174.5" r="1.0" fill="#f2a33a"/>
<circle cx="364.5" cy="175.3" r="1.0" fill="#f2a33a"/>
<circle cx="349.4" cy="179.6" r="1.0" fill="#f2a33a"/>
<circle cx="373.1" cy="169.3" r="1.0" fill="#f2a33a"/>
<circle cx="375.6" cy="164.5" r="1.0" fill="#f2a33a"/>
<circle cx="357.7" cy="171.1" r="1.0" fill="#f2a33a"/>
<circle cx="373.0" cy="164.8" r="1.0" fill="#f2a33a"/>
<circle cx="366.2" cy="166.2" r="1.0" fill="#f2a33a"/>
<circle cx="374.4" cy="156.9" r="1.0" fill="#f2a33a"/>
<circle cx="353.8" cy="185.5" r="1.0" fill="#f2a33a"/>
<circle cx="366.3" cy="166.5" r="1.0" fill="#f2a33a"/>
<circle cx="366.6" cy="168.4" r="1.0" fill="#f2a33a"/>
<circle cx="367.2" cy="164.9" r="1.0" fill="#f2a33a"/>
<circle cx="373.4" cy="166.2" r="1.0" fill="#f2a33a"/>
<circle cx="369.3" cy="172.1" r="1.0" fill="#f2a33a"/>
<circle cx="351.3" cy="183.9" r="1.0" fill="#f2a33a"/>
<circle cx="356.2" cy="172.1" r="1.0" fill="#f2a33a"/>
<circle cx="371.0" cy="170.9" r="1.0" fill="#f2a33a"/>
<circle cx="372.6" cy="169.5" r="1.0" fill="#f2a33a"/>
<circle cx="378.2" cy="167.7" r="1.0" fill="#f2a33a"/>
<circle cx="353.5" cy="174.7" r="1.0" fill="#f2a33a"/>
<circle cx="373.2" cy="164.9" r="1.0" fill="#f2a33a"/>
<circle cx="352.2" cy="170.8" r="1.0" fill="#f2a33a"/>
<circle cx="377.0" cy="162.4" r="1.0" fill="#f2a33a"/>
<circle cx="354.7" cy="177.2" r="1.0" fill="#f2a33a"/>
<circle cx="357.7" cy="171.1" r="1.0" fill="#f2a33a"/>
<circle cx="350.8" cy="180.0" r="1.0" fill="#f2a33a"/>
<circle cx="349.4" cy="175.4" r="1.0" fill="#f2a33a"/>
<circle cx="362.2" cy="178.4" r="1.0" fill="#f2a33a"/>
<circle cx="353.9" cy="186.8" r="1.0" fill="#f2a33a"/>
<circle cx="357.5" cy="176.3" r="1.0" fill="#f2a33a"/>
<circle cx="377.0" cy="168.7" r="1.0" fill="#f2a33a"/>
<circle cx="349.9" cy="180.0" r="1.0" fill="#f2a33a"/>
<circle cx="354.2" cy="184.2" r="1.0" fill="#f2a33a"/>
<circle cx="379.1" cy="164.3" r="1.0" fill="#f2a33a"/>
<circle cx="366.2" cy="168.4" r="1.0" fill="#f2a33a"/>
<circle cx="364.6" cy="168.5" r="1.0" fill="#f2a33a"/>
<circle cx="367.5" cy="165.8" r="1.0" fill="#f2a33a"/>
<circle cx="377.6" cy="176.6" r="1.0" fill="#f2a33a"/>
<circle cx="355.4" cy="172.8" r="1.0" fill="#f2a33a"/>
<circle cx="348.6" cy="175.7" r="1.0" fill="#f2a33a"/>
<circle cx="369.1" cy="170.1" r="1.0" fill="#f2a33a"/>
<circle cx="376.4" cy="172.2" r="1.0" fill="#f2a33a"/>
<circle cx="366.5" cy="169.4" r="1.0" fill="#f2a33a"/>
<circle cx="353.9" cy="181.3" r="1.0" fill="#f2a33a"/>
<circle cx="358.9" cy="180.9" r="1.0" fill="#f2a33a"/>
<circle cx="356.5" cy="178.3" r="1.0" fill="#f2a33a"/>
<circle cx="359.1" cy="183.8" r="1.0" fill="#f2a33a"/>
<circle cx="362.7" cy="172.1" r="1.0" fill="#f2a33a"/>
<circle cx="374.9" cy="163.2" r="1.0" fill="#f2a33a"/>
<circle cx="367.0" cy="176.8" r="1.0" fill="#f2a33a"/>
<circle cx="359.1" cy="182.1" r="1.0" fill="#f2a33a"/>
<circle cx="375.6" cy="166.7" r="1.0" fill="#f2a33a"/>
<circle cx="354.3" cy="177.3" r="1.0" fill="#f2a33a"/>
<circle cx="364.6" cy="174.3" r="1.0" fill="#f2a33a"/>
<circle cx="353.2" cy="180.8" r="1.0" fill="#f2a33a"/>
<circle cx="353.4" cy="174.2" r="1.0" fill="#f2a33a"/>
<circle cx="358.1" cy="179.3" r="1.0" fill="#f2a33a"/>
<circle cx="377.9" cy="166.8" r="1.0" fill="#f2a33a"/>
<circle cx="375.2" cy="172.6" r="1.0" fill="#f2a33a"/>
<circle cx="354.8" cy="189.6" r="1.0" fill="#f2a33a"/>
<circle cx="342.2" cy="171.1" r="1.0" fill="#f2a33a"/>
<circle cx="338.9" cy="170.7" r="1.0" fill="#f2a33a"/>
<circle cx="342.6" cy="169.6" r="1.0" fill="#f2a33a"/>
<circle cx="340.9" cy="169.2" r="1.0" fill="#f2a33a"/>
<circle cx="338.9" cy="172.4" r="1.0" fill="#f2a33a"/>
<circle cx="341.6" cy="169.5" r="1.0" fill="#f2a33a"/>
<circle cx="341.0" cy="171.0" r="1.0" fill="#f2a33a"/>
<circle cx="332.0" cy="179.0" r="1.0" fill="#f2a33a"/>
<circle cx="334.0" cy="178.5" r="1.0" fill="#f2a33a"/>
<circle cx="337.0" cy="178.0" r="1.0" fill="#f2a33a"/>
<circle cx="341.0" cy="181.0" r="1.0" fill="#f2a33a"/>
<circle cx="344.5" cy="181.0" r="1.0" fill="#f2a33a"/>
<circle cx="366.0" cy="182.0" r="1.0" fill="#f2a33a"/>
<circle cx="361.0" cy="161.0" r="1.0" fill="#f2a33a"/>
<circle cx="366.0" cy="158.5" r="1.0" fill="#f2a33a"/>
<circle cx="369.0" cy="159.0" r="1.0" fill="#f2a33a"/>
<text x="421.5" y="42" font-size="11" text-anchor="start" fill="#222" stroke="#222" stroke-width="0.18" font-weight="bold" font-style="normal" transform="translate(0 42) scale(1 1.08) translate(0 -42)" >B</text>
<text x="449.3" y="43" font-size="9.6" text-anchor="start" fill="#333333" stroke="#333333" stroke-width="0.18" font-weight="normal" font-style="normal" transform="translate(0 43) scale(1 1.08) translate(0 -43)"  textLength="191.4" lengthAdjust="spacingAndGlyphs">Epigenomic signatures in mouse PV neurons</text>
<text x="574" y="54" font-size="6.4" text-anchor="middle" fill="#333333" stroke="#333333" stroke-width="0.18" font-weight="normal" font-style="normal" transform="translate(0 54) scale(1 1.08) translate(0 -54)" >chr2:36,070,000-36,120,000</text>
<text x="480.5" y="66.3" font-size="6.4" text-anchor="end" fill="#333333" stroke="#333333" stroke-width="0.18" font-weight="normal" font-style="normal" transform="translate(0 66.3) scale(1 1.08) translate(0 -66.3)" >Gene Model</text>
<line x1="487.5" y1="63.8" x2="520.5" y2="63.8" stroke="#2c3b9c" stroke-width="0.9" />
<line x1="520.3" y1="60.8" x2="520.3" y2="66.8" stroke="#2c3b9c" stroke-width="1.1" />
<path d="M494,62.8 L495.5,63.8 L494,64.8" stroke="#2c3b9c" fill="none" stroke-width="0.6"/>
<path d="M502,62.8 L503.5,63.8 L502,64.8" stroke="#2c3b9c" fill="none" stroke-width="0.6"/>
<path d="M510,62.8 L511.5,63.8 L510,64.8" stroke="#2c3b9c" fill="none" stroke-width="0.6"/>
<text x="509.5" y="60.5" font-size="6.4" text-anchor="middle" fill="#333333" stroke="#333333" stroke-width="0.18" font-weight="normal" font-style="italic" transform="translate(0 60.5) scale(1 1.08) translate(0 -60.5)" >Mcm5</text>
<line x1="528" y1="63.8" x2="607" y2="63.8" stroke="#2c3b9c" stroke-width="0.9" />
<rect x="528.2" y="61.0" width="7.5" height="5.6" fill="#2c3b9c" stroke="none" stroke-width="1" />
<line x1="538.5" y1="60.8" x2="538.5" y2="66.8" stroke="#2c3b9c" stroke-width="1" />
<line x1="546.5" y1="60.8" x2="546.5" y2="66.8" stroke="#2c3b9c" stroke-width="1" />
<line x1="560" y1="60.8" x2="560" y2="66.8" stroke="#2c3b9c" stroke-width="1" />
<line x1="569.5" y1="60.8" x2="569.5" y2="66.8" stroke="#2c3b9c" stroke-width="1" />
<rect x="558.5" y="60.8" width="2.2" height="6" fill="#2c3b9c" stroke="none" stroke-width="1" />
<line x1="599.5" y1="60.8" x2="599.5" y2="66.8" stroke="#2c3b9c" stroke-width="0.9" />
<line x1="601.7" y1="60.8" x2="601.7" y2="66.8" stroke="#2c3b9c" stroke-width="0.9" />
<line x1="603.9" y1="60.8" x2="603.9" y2="66.8" stroke="#2c3b9c" stroke-width="0.9" />
<text x="608.5" y="66.3" font-size="6.6" text-anchor="start" fill="#333333" stroke="#333333" stroke-width="0.18" font-weight="normal" font-style="italic" transform="translate(0 66.3) scale(1 1.08) translate(0 -66.3)" >Lhx6</text>
<text x="646" y="60.5" font-size="6.6" text-anchor="middle" fill="#333333" stroke="#333333" stroke-width="0.18" font-weight="normal" font-style="italic" transform="translate(0 60.5) scale(1 1.08) translate(0 -60.5)" >Rbm18</text>
<line x1="643" y1="63.8" x2="658" y2="63.8" stroke="#2c3b9c" stroke-width="0.9" />
<rect x="643.8" y="61.0" width="5.5" height="5.6" fill="#2c3b9c" stroke="none" stroke-width="1" />
<rect x="434.4" y="71.8" width="51.8" height="26.7" fill="#f6c1ab" stroke="none" stroke-width="1" />
<text x="484" y="84.3" font-size="6.6" text-anchor="end" fill="#6b4a42" stroke="#6b4a42" stroke-width="0.18" font-weight="normal" font-style="normal" transform="translate(0 84.3) scale(1 1.08) translate(0 -84.3)" >Open chromatin</text>
<text x="484" y="93" font-size="6.6" text-anchor="end" fill="#6b4a42" stroke="#6b4a42" stroke-width="0.18" font-weight="normal" font-style="normal" transform="translate(0 93) scale(1 1.08) translate(0 -93)" >(snATAC-seq)</text>
<rect x="453.7" y="104" width="32.5" height="27.7" fill="#e6f2f2" stroke="none" stroke-width="1" />
<text x="484" y="119.9" font-size="6.5" text-anchor="end" fill="#555" stroke="#555" stroke-width="0.18" font-weight="normal" font-style="normal" transform="translate(0 119.9) scale(1 1.08) translate(0 -119.9)" >mCG</text>
<rect x="453.7" y="135" width="32.5" height="27.6" fill="#c6c6e6" stroke="none" stroke-width="1" />
<text x="484" y="146.8" font-size="6.5" text-anchor="end" fill="#555" stroke="#555" stroke-width="0.18" font-weight="normal" font-style="normal" transform="translate(0 146.8) scale(1 1.08) translate(0 -146.8)" >mCH</text>
<text x="484" y="155.5" font-size="6.5" text-anchor="end" fill="#555" stroke="#555" stroke-width="0.18" font-weight="normal" font-style="normal" transform="translate(0 155.5) scale(1 1.08) translate(0 -155.5)" >(Non-CG)</text>
<line x1="451.7" y1="104.8" x2="451.7" y2="161.8" stroke="#333" stroke-width="1.2" />
<text x="449.2" y="130.6" font-size="6.7" text-anchor="end" fill="#555" stroke="#555" stroke-width="0.18" font-weight="normal" font-style="normal" transform="translate(0 130.6) scale(1 1.08) translate(0 -130.6)" >DNA methylation</text>
<text x="449.2" y="139.2" font-size="6.7" text-anchor="end" fill="#555" stroke="#555" stroke-width="0.18" font-weight="normal" font-style="normal" transform="translate(0 139.2) scale(1 1.08) translate(0 -139.2)" >(snmC-seq)</text>
<path d="M487.8,98.3 L487.8,97.9 L488.5,97.9 L488.5,97.9 L489.2,97.9 L489.2,97.7 L489.9,97.7 L489.9,97.6 L490.6,97.6 L490.6,97.6 L491.3,97.6 L491.3,97.7 L492.0,97.7 L492.0,97.8 L492.7,97.8 L492.7,97.9 L493.4,97.9 L493.4,97.5 L494.1,97.5 L494.1,97.6 L494.8,97.6 L494.8,97.0 L495.5,97.0 L495.5,97.5 L496.2,97.5 L496.2,96.8 L496.9,96.8 L496.9,97.2 L497.6,97.2 L497.6,96.7 L498.3,96.7 L498.3,96.7 L499.0,96.7 L499.0,97.1 L499.7,97.1 L499.7,97.5 L500.4,97.5 L500.4,96.7 L501.1,96.7 L501.1,97.1 L501.8,97.1 L501.8,96.7 L502.5,96.7 L502.5,97.3 L503.2,97.3 L503.2,97.4 L503.9,97.4 L503.9,96.7 L504.6,96.7 L504.6,97.2 L505.3,97.2 L505.3,97.4 L506.0,97.4 L506.0,97.2 L506.7,97.2 L506.7,97.0 L507.4,97.0 L507.4,97.5 L508.1,97.5 L508.1,96.7 L508.8,96.7 L508.8,96.6 L509.5,96.6 L509.5,96.4 L510.2,96.4 L510.2,96.8 L510.9,96.8 L510.9,95.8 L511.6,95.8 L511.6,95.6 L512.3,95.6 L512.3,95.5 L513.0,95.5 L513.0,96.4 L513.7,96.4 L513.7,95.7 L514.4,95.7 L514.4,96.2 L515.1,96.2 L515.1,95.5 L515.8,95.5 L515.8,96.8 L516.5,96.8 L516.5,95.2 L517.2,95.2 L517.2,95.0 L517.9,95.0 L517.9,95.8 L518.6,95.8 L518.6,95.7 L519.3,95.7 L519.3,95.5 L520.0,95.5 L520.0,95.3 L520.7,95.3 L520.7,96.4 L521.4,96.4 L521.4,94.0 L522.1,94.0 L522.1,95.7 L522.8,95.7 L522.8,95.8 L523.5,95.8 L523.5,96.0 L524.2,96.0 L524.2,95.6 L524.9,95.6 L524.9,94.1 L525.6,94.1 L525.6,96.2 L526.3,96.2 L526.3,96.0 L527.0,96.0 L527.0,94.4 L527.7,94.4 L527.7,95.7 L528.4,95.7 L528.4,96.2 L529.1,96.2 L529.1,94.6 L529.8,94.6 L529.8,94.7 L530.5,94.7 L530.5,94.8 L531.2,94.8 L531.2,94.3 L531.9,94.3 L531.9,95.9 L532.6,95.9 L532.6,91.0 L533.3,91.0 L533.3,91.5 L534.0,91.5 L534.0,91.2 L534.7,91.2 L534.7,95.4 L535.4,95.4 L535.4,95.8 L536.1,95.8 L536.1,90.7 L536.8,90.7 L536.8,90.1 L537.5,90.1 L537.5,95.7 L538.2,95.7 L538.2,94.5 L538.9,94.5 L538.9,94.0 L539.6,94.0 L539.6,95.6 L540.3,95.6 L540.3,93.7 L541.0,93.7 L541.0,93.4 L541.7,93.4 L541.7,95.0 L542.4,95.0 L542.4,94.9 L543.1,94.9 L543.1,93.6 L543.8,93.6 L543.8,94.5 L544.5,94.5 L544.5,94.9 L545.2,94.9 L545.2,84.6 L545.9,84.6 L545.9,85.4 L546.6,85.4 L546.6,87.9 L547.3,87.9 L547.3,87.5 L548.0,87.5 L548.0,90.9 L548.7,90.9 L548.7,91.5 L549.4,91.5 L549.4,94.4 L550.1,94.4 L550.1,93.0 L550.8,93.0 L550.8,93.0 L551.5,93.0 L551.5,95.1 L552.2,95.1 L552.2,94.6 L552.9,94.6 L552.9,93.9 L553.6,93.9 L553.6,94.7 L554.3,94.7 L554.3,94.1 L555.0,94.1 L555.0,95.6 L555.7,95.6 L555.7,94.4 L556.4,94.4 L556.4,94.2 L557.1,94.2 L557.1,95.8 L557.8,95.8 L557.8,87.3 L558.5,87.3 L558.5,87.4 L559.2,87.4 L559.2,94.0 L559.9,94.0 L559.9,93.6 L560.6,93.6 L560.6,81.8 L561.3,81.8 L561.3,82.2 L562.0,82.2 L562.0,87.2 L562.7,87.2 L562.7,94.6 L563.4,94.6 L563.4,93.6 L564.1,93.6 L564.1,94.5 L564.8,94.5 L564.8,95.6 L565.5,95.6 L565.5,94.9 L566.2,94.9 L566.2,95.2 L566.9,95.2 L566.9,93.8 L567.6,93.8 L567.6,91.3 L568.3,91.3 L568.3,91.5 L569.0,91.5 L569.0,90.8 L569.7,90.8 L569.7,95.0 L570.4,95.0 L570.4,95.6 L571.1,95.6 L571.1,95.1 L571.8,95.1 L571.8,95.2 L572.5,95.2 L572.5,90.1 L573.2,90.1 L573.2,89.9 L573.9,89.9 L573.9,83.7 L574.6,83.7 L574.6,83.2 L575.3,83.2 L575.3,83.1 L576.0,83.1 L576.0,96.6 L576.7,96.6 L576.7,95.4 L577.4,95.4 L577.4,95.6 L578.1,95.6 L578.1,93.0 L578.8,93.0 L578.8,93.0 L579.5,93.0 L579.5,92.4 L580.2,92.4 L580.2,92.3 L580.9,92.3 L580.9,93.1 L581.6,93.1 L581.6,93.9 L582.3,93.9 L582.3,94.3 L583.0,94.3 L583.0,95.3 L583.7,95.3 L583.7,96.0 L584.4,96.0 L584.4,96.9 L585.1,96.9 L585.1,96.8 L585.8,96.8 L585.8,97.5 L586.5,97.5 L586.5,97.3 L587.2,97.3 L587.2,96.8 L587.9,96.8 L587.9,96.8 L588.6,96.8 L588.6,95.5 L589.3,95.5 L589.3,94.9 L590.0,94.9 L590.0,94.9 L590.7,94.9 L590.7,92.3 L591.4,92.3 L591.4,94.5 L592.1,94.5 L592.1,92.5 L592.8,92.5 L592.8,94.7 L593.5,94.7 L593.5,88.4 L594.2,88.4 L594.2,89.2 L594.9,89.2 L594.9,93.2 L595.6,93.2 L595.6,92.7 L596.3,92.7 L596.3,91.1 L597.0,91.1 L597.0,93.9 L597.7,93.9 L597.7,93.2 L598.4,93.2 L598.4,88.7 L599.1,88.7 L599.1,89.0 L599.8,89.0 L599.8,86.2 L600.5,86.2 L600.5,85.7 L601.2,85.7 L601.2,87.3 L601.9,87.3 L601.9,82.6 L602.6,82.6 L602.6,82.7 L603.3,82.7 L603.3,84.2 L604.0,84.2 L604.0,83.4 L604.7,83.4 L604.7,85.6 L605.4,85.6 L605.4,78.9 L606.1,78.9 L606.1,79.8 L606.8,79.8 L606.8,81.3 L607.5,81.3 L607.5,81.0 L608.2,81.0 L608.2,82.4 L608.9,82.4 L608.9,82.8 L609.6,82.8 L609.6,87.2 L610.3,87.2 L610.3,90.8 L611.0,90.8 L611.0,93.4 L611.7,93.4 L611.7,94.4 L612.4,94.4 L612.4,95.6 L613.1,95.6 L613.1,96.4 L613.8,96.4 L613.8,96.9 L614.5,96.9 L614.5,96.8 L615.2,96.8 L615.2,96.6 L615.9,96.6 L615.9,96.8 L616.6,96.8 L616.6,96.9 L617.3,96.9 L617.3,96.3 L618.0,96.3 L618.0,96.2 L618.7,96.2 L618.7,96.7 L619.4,96.7 L619.4,96.8 L620.1,96.8 L620.1,97.1 L620.8,97.1 L620.8,97.0 L621.5,97.0 L621.5,97.2 L622.2,97.2 L622.2,96.6 L622.9,96.6 L622.9,96.6 L623.6,96.6 L623.6,97.2 L624.3,97.2 L624.3,96.2 L625.0,96.2 L625.0,97.0 L625.7,97.0 L625.7,96.3 L626.4,96.3 L626.4,96.3 L627.1,96.3 L627.1,96.2 L627.8,96.2 L627.8,97.1 L628.5,97.1 L628.5,96.9 L629.2,96.9 L629.2,96.3 L629.9,96.3 L629.9,97.4 L630.6,97.4 L630.6,97.3 L631.3,97.3 L631.3,96.7 L632.0,96.7 L632.0,96.8 L632.7,96.8 L632.7,96.3 L633.4,96.3 L633.4,96.5 L634.1,96.5 L634.1,96.8 L634.8,96.8 L634.8,96.2 L635.5,96.2 L635.5,96.8 L636.2,96.8 L636.2,96.8 L636.9,96.8 L636.9,92.9 L637.6,92.9 L637.6,92.7 L638.3,92.7 L638.3,96.7 L639.0,96.7 L639.0,95.7 L639.7,95.7 L639.7,96.0 L640.4,96.0 L640.4,96.1 L641.1,96.1 L641.1,96.8 L641.8,96.8 L641.8,96.2 L642.5,96.2 L642.5,96.1 L643.2,96.1 L643.2,95.7 L643.9,95.7 L643.9,95.7 L644.6,95.7 L644.6,83.4 L645.3,83.4 L645.3,84.1 L646.0,84.1 L646.0,81.6 L646.7,81.6 L646.7,82.4 L647.4,82.4 L647.4,83.0 L648.1,83.0 L648.1,91.6 L648.8,91.6 L648.8,91.9 L649.5,91.9 L649.5,96.8 L650.2,96.8 L650.2,95.6 L650.9,95.6 L650.9,95.8 L651.6,95.8 L651.6,95.4 L652.3,95.4 L652.3,95.0 L653.0,95.0 L653.0,95.1 L653.7,95.1 L653.7,95.8 L654.4,95.8 L654.4,96.3 L655.1,96.3 L655.1,95.9 L655.8,95.9 L655.8,93.5 L656.5,93.5 L656.5,93.7 L657.2,93.7 L657,98.3 Z" fill="#e2222b"/>
<rect x="487.8" y="71.8" width="169.2" height="26.7" fill="none" stroke="#444" stroke-width="1.1" />
<rect x="487.8" y="104.3" width="169.40000000000003" height="27" fill="#fbfbfb" stroke="none" stroke-width="1" />
<rect x="488.1" y="104.5" width="0.8" height="26.8" fill="#2aa97e" fill-opacity="0.42"/>
<rect x="488.9" y="104.5" width="0.8" height="26.8" fill="#2aa97e" fill-opacity="0.14"/>
<rect x="489.7" y="104.5" width="0.8" height="26.8" fill="#2aa97e" fill-opacity="0.38"/>
<rect x="490.5" y="104.5" width="0.8" height="26.8" fill="#2aa97e" fill-opacity="0.37"/>
<rect x="491.3" y="104.5" width="0.8" height="26.8" fill="#2aa97e" fill-opacity="0.70"/>
<rect x="492.1" y="104.5" width="0.8" height="26.8" fill="#2aa97e" fill-opacity="0.60"/>
<rect x="492.9" y="104.5" width="0.8" height="26.8" fill="#2aa97e" fill-opacity="0.58"/>
<rect x="493.7" y="104.5" width="0.8" height="26.8" fill="#2aa97e" fill-opacity="0.47"/>
<rect x="494.5" y="104.5" width="0.8" height="26.8" fill="#2aa97e" fill-opacity="0.78"/>
<rect x="495.3" y="104.5" width="0.8" height="26.8" fill="#2aa97e" fill-opacity="0.25"/>
<rect x="496.1" y="104.5" width="0.8" height="26.8" fill="#2aa97e" fill-opacity="0.65"/>
<rect x="496.9" y="104.5" width="0.8" height="26.8" fill="#2aa97e" fill-opacity="0.11"/>
<rect x="497.7" y="104.5" width="0.8" height="26.8" fill="#2aa97e" fill-opacity="0.74"/>
<rect x="498.5" y="104.5" width="0.8" height="26.8" fill="#2aa97e" fill-opacity="0.34"/>
<rect x="499.3" y="104.5" width="0.8" height="26.8" fill="#2aa97e" fill-opacity="0.62"/>
<rect x="500.1" y="104.5" width="0.8" height="26.8" fill="#2aa97e" fill-opacity="0.45"/>
<rect x="500.9" y="104.5" width="0.8" height="26.8" fill="#2aa97e" fill-opacity="0.62"/>
<rect x="501.7" y="104.5" width="0.8" height="26.8" fill="#2aa97e" fill-opacity="0.66"/>
<rect x="502.5" y="104.5" width="0.8" height="26.8" fill="#2aa97e" fill-opacity="0.94"/>
<rect x="503.3" y="104.5" width="0.8" height="26.8" fill="#2aa97e" fill-opacity="0.91"/>
<rect x="504.1" y="104.5" width="0.8" height="26.8" fill="#2aa97e" fill-opacity="0.64"/>
<rect x="504.9" y="104.5" width="0.8" height="26.8" fill="#2aa97e" fill-opacity="0.95"/>
<rect x="505.7" y="104.5" width="0.8" height="26.8" fill="#2aa97e" fill-opacity="0.75"/>
<rect x="506.5" y="104.5" width="0.8" height="26.8" fill="#2aa97e" fill-opacity="0.89"/>
<rect x="507.3" y="104.5" width="0.8" height="26.8" fill="#2aa97e" fill-opacity="0.32"/>
<rect x="508.1" y="104.5" width="0.8" height="26.8" fill="#2aa97e" fill-opacity="0.27"/>
<rect x="508.9" y="104.5" width="0.8" height="26.8" fill="#2aa97e" fill-opacity="0.61"/>
<rect x="509.7" y="104.5" width="0.8" height="26.8" fill="#2aa97e" fill-opacity="0.45"/>
<rect x="510.5" y="104.5" width="0.8" height="26.8" fill="#2aa97e" fill-opacity="0.21"/>
<rect x="511.3" y="104.5" width="0.8" height="26.8" fill="#2aa97e" fill-opacity="0.32"/>
<rect x="512.1" y="116.0" width="0.8" height="15.3" fill="#2aa97e" fill-opacity="0.35"/>
<rect x="512.9" y="109.9" width="0.8" height="21.4" fill="#2aa97e" fill-opacity="0.42"/>
<rect x="513.7" y="109.2" width="0.8" height="22.1" fill="#2aa97e" fill-opacity="0.26"/>
<rect x="514.5" y="107.2" width="0.8" height="24.1" fill="#2aa97e" fill-opacity="0.28"/>
<rect x="515.3" y="107.1" width="0.8" height="24.2" fill="#2aa97e" fill-opacity="0.72"/>
<rect x="516.1" y="114.9" width="0.8" height="16.4" fill="#2aa97e" fill-opacity="0.67"/>
<rect x="516.9" y="105.2" width="0.8" height="26.1" fill="#2aa97e" fill-opacity="0.34"/>
<rect x="518.5" y="116.9" width="0.8" height="14.4" fill="#2aa97e" fill-opacity="0.49"/>
<rect x="519.3" y="109.2" width="0.8" height="22.1" fill="#2aa97e" fill-opacity="0.37"/>
<rect x="520.9" y="114.7" width="0.8" height="16.6" fill="#2aa97e" fill-opacity="0.36"/>
<rect x="521.7" y="117.2" width="0.8" height="14.1" fill="#2aa97e" fill-opacity="0.77"/>
<rect x="522.5" y="112.3" width="0.8" height="19.0" fill="#2aa97e" fill-opacity="0.55"/>
<rect x="523.3" y="108.2" width="0.8" height="23.1" fill="#2aa97e" fill-opacity="0.45"/>
<rect x="524.1" y="111.5" width="0.8" height="19.8" fill="#2aa97e" fill-opacity="0.40"/>
<rect x="524.9" y="119.2" width="0.8" height="12.1" fill="#2aa97e" fill-opacity="0.32"/>
<rect x="526.5" y="109.9" width="0.8" height="21.4" fill="#2aa97e" fill-opacity="0.27"/>
<rect x="527.3" y="114.8" width="0.8" height="16.5" fill="#2aa97e" fill-opacity="0.53"/>
<rect x="528.1" y="119.5" width="0.8" height="11.8" fill="#2aa97e" fill-opacity="0.40"/>
<rect x="528.9" y="118.6" width="0.8" height="12.7" fill="#2aa97e" fill-opacity="0.67"/>
<rect x="529.7" y="114.1" width="0.8" height="17.2" fill="#2aa97e" fill-opacity="0.79"/>
<rect x="532.9" y="119.8" width="0.8" height="11.5" fill="#2aa97e" fill-opacity="0.22"/>
<rect x="535.3" y="117.4" width="0.8" height="13.9" fill="#2aa97e" fill-opacity="0.60"/>
<rect x="536.9" y="109.9" width="0.8" height="21.4" fill="#2aa97e" fill-opacity="0.41"/>
<rect x="538.5" y="122.6" width="0.8" height="8.7" fill="#2aa97e" fill-opacity="0.75"/>
<rect x="540.9" y="123.9" width="0.8" height="7.4" fill="#2aa97e" fill-opacity="0.30"/>
<rect x="541.7" y="119.3" width="0.8" height="12.0" fill="#2aa97e" fill-opacity="0.43"/>
<rect x="542.5" y="119.2" width="0.8" height="12.1" fill="#2aa97e" fill-opacity="0.58"/>
<rect x="543.3" y="110.0" width="0.8" height="21.3" fill="#2aa97e" fill-opacity="0.54"/>
<rect x="544.9" y="117.0" width="0.8" height="14.3" fill="#2aa97e" fill-opacity="0.61"/>
<rect x="545.7" y="124.6" width="0.8" height="6.7" fill="#2aa97e" fill-opacity="0.70"/>
<rect x="547.3" y="123.9" width="0.8" height="7.4" fill="#2aa97e" fill-opacity="0.71"/>
<rect x="548.9" y="124.0" width="0.8" height="7.3" fill="#2aa97e" fill-opacity="0.36"/>
<rect x="552.9" y="118.0" width="0.8" height="13.3" fill="#2aa97e" fill-opacity="0.50"/>
<rect x="556.1" y="114.6" width="0.8" height="16.7" fill="#2aa97e" fill-opacity="0.51"/>
<rect x="561.7" y="117.9" width="0.8" height="13.4" fill="#2aa97e" fill-opacity="0.51"/>
<rect x="565.7" y="117.9" width="0.8" height="13.4" fill="#2aa97e" fill-opacity="0.70"/>
<rect x="571.3" y="122.5" width="0.8" height="8.8" fill="#2aa97e" fill-opacity="0.51"/>
<rect x="592.1" y="123.4" width="0.8" height="7.9" fill="#2aa97e" fill-opacity="0.48"/>
<rect x="593.7" y="123.5" width="0.8" height="7.8" fill="#2aa97e" fill-opacity="0.40"/>
<rect x="596.1" y="122.9" width="0.8" height="8.4" fill="#2aa97e" fill-opacity="0.53"/>
<rect x="598.5" y="127.1" width="0.8" height="4.2" fill="#2aa97e" fill-opacity="0.80"/>
<rect x="600.1" y="117.7" width="0.8" height="13.6" fill="#2aa97e" fill-opacity="0.79"/>
<rect x="601.7" y="120.7" width="0.8" height="10.6" fill="#2aa97e" fill-opacity="0.52"/>
<rect x="604.1" y="115.0" width="0.8" height="16.3" fill="#2aa97e" fill-opacity="0.62"/>
<rect x="609.7" y="116.9" width="0.8" height="14.4" fill="#2aa97e" fill-opacity="0.72"/>
<rect x="611.3" y="104.5" width="0.8" height="26.8" fill="#2aa97e" fill-opacity="0.86"/>
<rect x="612.1" y="104.5" width="0.8" height="26.8" fill="#2aa97e" fill-opacity="0.81"/>
<rect x="612.9" y="104.5" width="0.8" height="26.8" fill="#2aa97e" fill-opacity="0.39"/>
<rect x="613.7" y="104.5" width="0.8" height="26.8" fill="#2aa97e" fill-opacity="0.39"/>
<rect x="614.5" y="104.5" width="0.8" height="26.8" fill="#2aa97e" fill-opacity="0.43"/>
<rect x="615.3" y="104.5" width="0.8" height="26.8" fill="#2aa97e" fill-opacity="0.14"/>
<rect x="616.1" y="104.5" width="0.8" height="26.8" fill="#2aa97e" fill-opacity="0.84"/>
<rect x="616.9" y="104.5" width="0.8" height="26.8" fill="#2aa97e" fill-opacity="0.95"/>
<rect x="617.7" y="104.5" width="0.8" height="26.8" fill="#2aa97e" fill-opacity="0.24"/>
<rect x="618.5" y="104.5" width="0.8" height="26.8" fill="#2aa97e" fill-opacity="0.17"/>
<rect x="619.3" y="104.5" width="0.8" height="26.8" fill="#2aa97e" fill-opacity="0.50"/>
<rect x="620.1" y="104.5" width="0.8" height="26.8" fill="#2aa97e" fill-opacity="0.14"/>
<rect x="620.9" y="104.5" width="0.8" height="26.8" fill="#2aa97e" fill-opacity="0.75"/>
<rect x="621.7" y="104.5" width="0.8" height="26.8" fill="#2aa97e" fill-opacity="0.87"/>
<rect x="622.5" y="104.5" width="0.8" height="26.8" fill="#2aa97e" fill-opacity="0.35"/>
<rect x="623.3" y="104.5" width="0.8" height="26.8" fill="#2aa97e" fill-opacity="0.48"/>
<rect x="624.1" y="104.5" width="0.8" height="26.8" fill="#2aa97e" fill-opacity="0.70"/>
<rect x="624.9" y="104.5" width="0.8" height="26.8" fill="#2aa97e" fill-opacity="0.25"/>
<rect x="625.7" y="104.5" width="0.8" height="26.8" fill="#2aa97e" fill-opacity="0.61"/>
<rect x="626.5" y="104.5" width="0.8" height="26.8" fill="#2aa97e" fill-opacity="0.18"/>
<rect x="627.3" y="104.5" width="0.8" height="26.8" fill="#2aa97e" fill-opacity="0.97"/>
<rect x="628.1" y="104.5" width="0.8" height="26.8" fill="#2aa97e" fill-opacity="0.98"/>
<rect x="628.9" y="104.5" width="0.8" height="26.8" fill="#2aa97e" fill-opacity="0.83"/>
<rect x="629.7" y="104.5" width="0.8" height="26.8" fill="#2aa97e" fill-opacity="0.65"/>
<rect x="630.5" y="104.5" width="0.8" height="26.8" fill="#2aa97e" fill-opacity="0.96"/>
<rect x="631.3" y="104.5" width="0.8" height="26.8" fill="#2aa97e" fill-opacity="0.37"/>
<rect x="632.1" y="104.5" width="0.8" height="26.8" fill="#2aa97e" fill-opacity="0.13"/>
<rect x="632.9" y="104.5" width="0.8" height="26.8" fill="#2aa97e" fill-opacity="0.50"/>
<rect x="633.7" y="104.5" width="0.8" height="26.8" fill="#2aa97e" fill-opacity="0.43"/>
<rect x="634.5" y="104.5" width="0.8" height="26.8" fill="#2aa97e" fill-opacity="0.58"/>
<rect x="635.3" y="104.5" width="0.8" height="26.8" fill="#2aa97e" fill-opacity="0.20"/>
<rect x="636.1" y="104.5" width="0.8" height="26.8" fill="#2aa97e" fill-opacity="0.59"/>
<rect x="636.9" y="104.5" width="0.8" height="26.8" fill="#2aa97e" fill-opacity="0.33"/>
<rect x="637.7" y="104.5" width="0.8" height="26.8" fill="#2aa97e" fill-opacity="0.33"/>
<rect x="638.5" y="104.5" width="0.8" height="26.8" fill="#2aa97e" fill-opacity="0.30"/>
<rect x="639.3" y="104.5" width="0.8" height="26.8" fill="#2aa97e" fill-opacity="0.56"/>
<rect x="640.1" y="104.5" width="0.8" height="26.8" fill="#2aa97e" fill-opacity="0.47"/>
<rect x="640.9" y="104.5" width="0.8" height="26.8" fill="#2aa97e" fill-opacity="0.88"/>
<rect x="641.7" y="104.5" width="0.8" height="26.8" fill="#2aa97e" fill-opacity="0.78"/>
<rect x="642.5" y="104.5" width="0.8" height="26.8" fill="#2aa97e" fill-opacity="0.75"/>
<rect x="643.3" y="104.5" width="0.8" height="26.8" fill="#2aa97e" fill-opacity="0.45"/>
<rect x="644.1" y="104.5" width="0.8" height="26.8" fill="#2aa97e" fill-opacity="0.61"/>
<rect x="644.9" y="104.5" width="0.8" height="26.8" fill="#2aa97e" fill-opacity="0.80"/>
<rect x="645.7" y="104.5" width="0.8" height="26.8" fill="#2aa97e" fill-opacity="0.44"/>
<rect x="646.5" y="104.5" width="0.8" height="26.8" fill="#2aa97e" fill-opacity="0.29"/>
<rect x="647.3" y="104.5" width="0.8" height="26.8" fill="#2aa97e" fill-opacity="0.48"/>
<rect x="648.1" y="104.5" width="0.8" height="26.8" fill="#2aa97e" fill-opacity="0.88"/>
<rect x="648.9" y="104.5" width="0.8" height="26.8" fill="#2aa97e" fill-opacity="0.88"/>
<rect x="649.7" y="104.5" width="0.8" height="26.8" fill="#2aa97e" fill-opacity="0.41"/>
<rect x="650.5" y="104.5" width="0.8" height="26.8" fill="#2aa97e" fill-opacity="0.84"/>
<rect x="651.3" y="104.5" width="0.8" height="26.8" fill="#2aa97e" fill-opacity="0.76"/>
<rect x="652.1" y="104.5" width="0.8" height="26.8" fill="#2aa97e" fill-opacity="0.14"/>
<rect x="652.9" y="104.5" width="0.8" height="26.8" fill="#2aa97e" fill-opacity="0.59"/>
<rect x="653.7" y="104.5" width="0.8" height="26.8" fill="#2aa97e" fill-opacity="0.93"/>
<rect x="654.5" y="104.5" width="0.8" height="26.8" fill="#2aa97e" fill-opacity="0.27"/>
<rect x="655.3" y="104.5" width="0.8" height="26.8" fill="#2aa97e" fill-opacity="0.62"/>
<rect x="656.1" y="104.5" width="0.8" height="26.8" fill="#2aa97e" fill-opacity="0.20"/>
<rect x="656.9" y="104.5" width="0.8" height="26.8" fill="#2aa97e" fill-opacity="0.60"/>
<rect x="487.8" y="104.3" width="169.40000000000003" height="27" fill="none" stroke="#444" stroke-width="1.1" />
<defs><linearGradient id="chg" x1="0" y1="1" x2="0" y2="0"><stop offset="0" stop-color="#3535a0"/><stop offset="1" stop-color="#8a8ad0"/></linearGradient></defs>
<rect x="487.8" y="135.3" width="169.40000000000003" height="27" fill="#f8f8fb" stroke="none" stroke-width="1" />
<rect x="488.1" y="142.4" width="0.8" height="19.9" fill="url(#chg)" fill-opacity="0.38"/>
<rect x="488.1" y="139.1" width="0.8" height="23.2" fill="url(#chg)" fill-opacity="0.44"/>
<rect x="488.1" y="140.3" width="0.8" height="22.0" fill="url(#chg)" fill-opacity="0.58"/>
<rect x="488.9" y="148.3" width="0.8" height="14.0" fill="url(#chg)" fill-opacity="0.30"/>
<rect x="488.9" y="139.1" width="0.8" height="23.2" fill="url(#chg)" fill-opacity="0.53"/>
<rect x="488.9" y="151.1" width="0.8" height="11.2" fill="url(#chg)" fill-opacity="0.54"/>
<rect x="489.7" y="147.5" width="0.8" height="14.8" fill="url(#chg)" fill-opacity="0.42"/>
<rect x="489.7" y="139.6" width="0.8" height="22.7" fill="url(#chg)" fill-opacity="0.39"/>
<rect x="490.5" y="153.0" width="0.8" height="9.3" fill="url(#chg)" fill-opacity="0.37"/>
<rect x="490.5" y="138.8" width="0.8" height="23.5" fill="url(#chg)" fill-opacity="0.46"/>
<rect x="490.5" y="151.3" width="0.8" height="11.0" fill="url(#chg)" fill-opacity="0.38"/>
<rect x="491.3" y="144.3" width="0.8" height="18.0" fill="url(#chg)" fill-opacity="0.39"/>
<rect x="491.3" y="154.2" width="0.8" height="8.1" fill="url(#chg)" fill-opacity="0.45"/>
<rect x="491.3" y="153.9" width="0.8" height="8.4" fill="url(#chg)" fill-opacity="0.41"/>
<rect x="492.1" y="151.8" width="0.8" height="10.5" fill="url(#chg)" fill-opacity="0.48"/>
<rect x="492.1" y="149.5" width="0.8" height="12.8" fill="url(#chg)" fill-opacity="0.43"/>
<rect x="492.9" y="144.4" width="0.8" height="17.9" fill="url(#chg)" fill-opacity="0.43"/>
<rect x="493.7" y="144.6" width="0.8" height="17.7" fill="url(#chg)" fill-opacity="0.52"/>
<rect x="494.5" y="143.3" width="0.8" height="19.0" fill="url(#chg)" fill-opacity="0.38"/>
<rect x="494.5" y="140.5" width="0.8" height="21.8" fill="url(#chg)" fill-opacity="0.56"/>
<rect x="495.3" y="149.0" width="0.8" height="13.3" fill="url(#chg)" fill-opacity="0.52"/>
<rect x="495.3" y="145.5" width="0.8" height="16.8" fill="url(#chg)" fill-opacity="0.47"/>
<rect x="495.3" y="144.7" width="0.8" height="17.6" fill="url(#chg)" fill-opacity="0.39"/>
<rect x="496.1" y="148.4" width="0.8" height="13.9" fill="url(#chg)" fill-opacity="0.36"/>
<rect x="496.1" y="147.9" width="0.8" height="14.4" fill="url(#chg)" fill-opacity="0.34"/>
<rect x="496.9" y="148.2" width="0.8" height="14.1" fill="url(#chg)" fill-opacity="0.30"/>
<rect x="496.9" y="139.2" width="0.8" height="23.1" fill="url(#chg)" fill-opacity="0.41"/>
<rect x="496.9" y="144.4" width="0.8" height="17.9" fill="url(#chg)" fill-opacity="0.36"/>
<rect x="497.7" y="153.1" width="0.8" height="9.2" fill="url(#chg)" fill-opacity="0.36"/>
<rect x="497.7" y="141.7" width="0.8" height="20.6" fill="url(#chg)" fill-opacity="0.44"/>
<rect x="498.5" y="138.3" width="0.8" height="24.0" fill="url(#chg)" fill-opacity="0.45"/>
<rect x="498.5" y="151.2" width="0.8" height="11.1" fill="url(#chg)" fill-opacity="0.45"/>
<rect x="499.3" y="140.8" width="0.8" height="21.5" fill="url(#chg)" fill-opacity="0.40"/>
<rect x="499.3" y="145.9" width="0.8" height="16.4" fill="url(#chg)" fill-opacity="0.56"/>
<rect x="500.1" y="149.8" width="0.8" height="12.5" fill="url(#chg)" fill-opacity="0.26"/>
<rect x="500.1" y="149.6" width="0.8" height="12.7" fill="url(#chg)" fill-opacity="0.50"/>
<rect x="500.1" y="147.4" width="0.8" height="14.9" fill="url(#chg)" fill-opacity="0.32"/>
<rect x="500.9" y="139.3" width="0.8" height="23.0" fill="url(#chg)" fill-opacity="0.48"/>
<rect x="500.9" y="141.6" width="0.8" height="20.7" fill="url(#chg)" fill-opacity="0.59"/>
<rect x="500.9" y="152.9" width="0.8" height="9.4" fill="url(#chg)" fill-opacity="0.53"/>
<rect x="501.7" y="151.9" width="0.8" height="10.4" fill="url(#chg)" fill-opacity="0.32"/>
<rect x="501.7" y="139.1" width="0.8" height="23.2" fill="url(#chg)" fill-opacity="0.47"/>
<rect x="502.5" y="148.6" width="0.8" height="13.7" fill="url(#chg)" fill-opacity="0.51"/>
<rect x="502.5" y="147.3" width="0.8" height="15.0" fill="url(#chg)" fill-opacity="0.49"/>
<rect x="503.3" y="153.3" width="0.8" height="9.0" fill="url(#chg)" fill-opacity="0.39"/>
<rect x="503.3" y="143.4" width="0.8" height="18.9" fill="url(#chg)" fill-opacity="0.37"/>
<rect x="503.3" y="143.9" width="0.8" height="18.4" fill="url(#chg)" fill-opacity="0.34"/>
<rect x="504.1" y="154.1" width="0.8" height="8.2" fill="url(#chg)" fill-opacity="0.57"/>
<rect x="504.1" y="137.2" width="0.8" height="25.1" fill="url(#chg)" fill-opacity="0.27"/>
<rect x="504.1" y="141.7" width="0.8" height="20.6" fill="url(#chg)" fill-opacity="0.37"/>
<rect x="504.9" y="151.6" width="0.8" height="10.7" fill="url(#chg)" fill-opacity="0.30"/>
<rect x="504.9" y="140.2" width="0.8" height="22.1" fill="url(#chg)" fill-opacity="0.40"/>
<rect x="505.7" y="144.1" width="0.8" height="18.2" fill="url(#chg)" fill-opacity="0.44"/>
<rect x="505.7" y="143.8" width="0.8" height="18.5" fill="url(#chg)" fill-opacity="0.37"/>
<rect x="505.7" y="149.8" width="0.8" height="12.5" fill="url(#chg)" fill-opacity="0.50"/>
<rect x="506.5" y="140.9" width="0.8" height="21.4" fill="url(#chg)" fill-opacity="0.59"/>
<rect x="507.3" y="149.5" width="0.8" height="12.8" fill="url(#chg)" fill-opacity="0.43"/>
<rect x="507.3" y="154.1" width="0.8" height="8.2" fill="url(#chg)" fill-opacity="0.42"/>
<rect x="508.9" y="146.4" width="0.8" height="15.9" fill="url(#chg)" fill-opacity="0.33"/>
<rect x="509.7" y="159.3" width="0.8" height="3.0" fill="url(#chg)" fill-opacity="0.30"/>
<rect x="509.7" y="152.9" width="0.8" height="9.4" fill="url(#chg)" fill-opacity="0.44"/>
<rect x="510.5" y="147.1" width="0.8" height="15.2" fill="url(#chg)" fill-opacity="0.38"/>
<rect x="510.5" y="157.3" width="0.8" height="5.0" fill="url(#chg)" fill-opacity="0.51"/>
<rect x="511.3" y="159.2" width="0.8" height="3.1" fill="url(#chg)" fill-opacity="0.52"/>
<rect x="512.1" y="146.5" width="0.8" height="15.8" fill="url(#chg)" fill-opacity="0.42"/>
<rect x="512.9" y="148.9" width="0.8" height="13.4" fill="url(#chg)" fill-opacity="0.41"/>
<rect x="512.9" y="147.6" width="0.8" height="14.7" fill="url(#chg)" fill-opacity="0.29"/>
<rect x="513.7" y="151.0" width="0.8" height="11.3" fill="url(#chg)" fill-opacity="0.39"/>
<rect x="514.5" y="152.1" width="0.8" height="10.2" fill="url(#chg)" fill-opacity="0.39"/>
<rect x="516.1" y="156.3" width="0.8" height="6.0" fill="url(#chg)" fill-opacity="0.34"/>
<rect x="516.9" y="156.5" width="0.8" height="5.8" fill="url(#chg)" fill-opacity="0.32"/>
<rect x="517.7" y="146.4" width="0.8" height="15.9" fill="url(#chg)" fill-opacity="0.33"/>
<rect x="518.5" y="157.5" width="0.8" height="4.8" fill="url(#chg)" fill-opacity="0.55"/>
<rect x="519.3" y="149.6" width="0.8" height="12.7" fill="url(#chg)" fill-opacity="0.54"/>
<rect x="519.3" y="155.2" width="0.8" height="7.1" fill="url(#chg)" fill-opacity="0.42"/>
<rect x="520.1" y="150.5" width="0.8" height="11.8" fill="url(#chg)" fill-opacity="0.46"/>
<rect x="520.9" y="151.9" width="0.8" height="10.4" fill="url(#chg)" fill-opacity="0.56"/>
<rect x="520.9" y="147.8" width="0.8" height="14.5" fill="url(#chg)" fill-opacity="0.38"/>
<rect x="522.5" y="148.1" width="0.8" height="14.2" fill="url(#chg)" fill-opacity="0.60"/>
<rect x="522.5" y="159.3" width="0.8" height="3.0" fill="url(#chg)" fill-opacity="0.29"/>
<rect x="523.3" y="147.5" width="0.8" height="14.8" fill="url(#chg)" fill-opacity="0.30"/>
<rect x="524.1" y="157.4" width="0.8" height="4.9" fill="url(#chg)" fill-opacity="0.49"/>
<rect x="524.9" y="155.1" width="0.8" height="7.2" fill="url(#chg)" fill-opacity="0.57"/>
<rect x="526.5" y="156.5" width="0.8" height="5.8" fill="url(#chg)" fill-opacity="0.53"/>
<rect x="527.3" y="152.9" width="0.8" height="9.4" fill="url(#chg)" fill-opacity="0.33"/>
<rect x="527.3" y="158.2" width="0.8" height="4.1" fill="url(#chg)" fill-opacity="0.26"/>
<rect x="528.1" y="147.9" width="0.8" height="14.4" fill="url(#chg)" fill-opacity="0.29"/>
<rect x="528.9" y="157.8" width="0.8" height="4.5" fill="url(#chg)" fill-opacity="0.40"/>
<rect x="528.9" y="150.5" width="0.8" height="11.8" fill="url(#chg)" fill-opacity="0.30"/>
<rect x="529.7" y="158.1" width="0.8" height="4.2" fill="url(#chg)" fill-opacity="0.37"/>
<rect x="530.5" y="152.4" width="0.8" height="9.9" fill="url(#chg)" fill-opacity="0.37"/>
<rect x="531.3" y="151.9" width="0.8" height="10.4" fill="url(#chg)" fill-opacity="0.56"/>
<rect x="532.9" y="159.3" width="0.8" height="3.0" fill="url(#chg)" fill-opacity="0.34"/>
<rect x="533.7" y="160.6" width="0.8" height="1.7" fill="url(#chg)" fill-opacity="0.43"/>
<rect x="534.5" y="155.8" width="0.8" height="6.5" fill="url(#chg)" fill-opacity="0.38"/>
<rect x="535.3" y="154.5" width="0.8" height="7.8" fill="url(#chg)" fill-opacity="0.48"/>
<rect x="540.9" y="158.0" width="0.8" height="4.3" fill="url(#chg)" fill-opacity="0.40"/>
<rect x="542.5" y="157.4" width="0.8" height="4.9" fill="url(#chg)" fill-opacity="0.39"/>
<rect x="543.3" y="151.6" width="0.8" height="10.7" fill="url(#chg)" fill-opacity="0.25"/>
<rect x="545.7" y="155.3" width="0.8" height="7.0" fill="url(#chg)" fill-opacity="0.38"/>
<rect x="546.5" y="159.1" width="0.8" height="3.2" fill="url(#chg)" fill-opacity="0.29"/>
<rect x="549.7" y="154.5" width="0.8" height="7.8" fill="url(#chg)" fill-opacity="0.36"/>
<rect x="552.1" y="151.9" width="0.8" height="10.4" fill="url(#chg)" fill-opacity="0.25"/>
<rect x="556.9" y="155.1" width="0.8" height="7.2" fill="url(#chg)" fill-opacity="0.51"/>
<rect x="557.7" y="154.3" width="0.8" height="8.0" fill="url(#chg)" fill-opacity="0.39"/>
<rect x="560.9" y="156.8" width="0.8" height="5.5" fill="url(#chg)" fill-opacity="0.44"/>
<rect x="561.7" y="156.9" width="0.8" height="5.4" fill="url(#chg)" fill-opacity="0.34"/>
<rect x="563.3" y="156.1" width="0.8" height="6.2" fill="url(#chg)" fill-opacity="0.43"/>
<rect x="564.1" y="159.5" width="0.8" height="2.8" fill="url(#chg)" fill-opacity="0.30"/>
<rect x="565.7" y="157.5" width="0.8" height="4.8" fill="url(#chg)" fill-opacity="0.43"/>
<rect x="567.3" y="159.8" width="0.8" height="2.5" fill="url(#chg)" fill-opacity="0.54"/>
<rect x="568.1" y="156.7" width="0.8" height="5.6" fill="url(#chg)" fill-opacity="0.54"/>
<rect x="570.5" y="158.4" width="0.8" height="3.9" fill="url(#chg)" fill-opacity="0.54"/>
<rect x="572.1" y="159.9" width="0.8" height="2.4" fill="url(#chg)" fill-opacity="0.34"/>
<rect x="572.9" y="158.6" width="0.8" height="3.7" fill="url(#chg)" fill-opacity="0.53"/>
<rect x="573.7" y="157.9" width="0.8" height="4.4" fill="url(#chg)" fill-opacity="0.28"/>
<rect x="574.5" y="154.3" width="0.8" height="8.0" fill="url(#chg)" fill-opacity="0.49"/>
<rect x="575.3" y="157.8" width="0.8" height="4.5" fill="url(#chg)" fill-opacity="0.53"/>
<rect x="576.9" y="156.4" width="0.8" height="5.9" fill="url(#chg)" fill-opacity="0.38"/>
<rect x="577.7" y="159.4" width="0.8" height="2.9" fill="url(#chg)" fill-opacity="0.38"/>
<rect x="578.5" y="158.4" width="0.8" height="3.9" fill="url(#chg)" fill-opacity="0.26"/>
<rect x="579.3" y="157.2" width="0.8" height="5.1" fill="url(#chg)" fill-opacity="0.27"/>
<rect x="580.1" y="156.2" width="0.8" height="6.1" fill="url(#chg)" fill-opacity="0.35"/>
<rect x="580.9" y="159.4" width="0.8" height="2.9" fill="url(#chg)" fill-opacity="0.54"/>
<rect x="581.7" y="156.7" width="0.8" height="5.6" fill="url(#chg)" fill-opacity="0.55"/>
<rect x="582.5" y="158.1" width="0.8" height="4.2" fill="url(#chg)" fill-opacity="0.53"/>
<rect x="584.1" y="160.7" width="0.8" height="1.6" fill="url(#chg)" fill-opacity="0.40"/>
<rect x="584.9" y="156.2" width="0.8" height="6.1" fill="url(#chg)" fill-opacity="0.35"/>
<rect x="585.7" y="156.6" width="0.8" height="5.7" fill="url(#chg)" fill-opacity="0.53"/>
<rect x="586.5" y="158.4" width="0.8" height="3.9" fill="url(#chg)" fill-opacity="0.45"/>
<rect x="588.1" y="154.5" width="0.8" height="7.8" fill="url(#chg)" fill-opacity="0.50"/>
<rect x="588.9" y="156.5" width="0.8" height="5.8" fill="url(#chg)" fill-opacity="0.37"/>
<rect x="589.7" y="155.9" width="0.8" height="6.4" fill="url(#chg)" fill-opacity="0.38"/>
<rect x="590.5" y="157.7" width="0.8" height="4.6" fill="url(#chg)" fill-opacity="0.57"/>
<rect x="592.1" y="157.0" width="0.8" height="5.3" fill="url(#chg)" fill-opacity="0.41"/>
<rect x="592.9" y="155.4" width="0.8" height="6.9" fill="url(#chg)" fill-opacity="0.40"/>
<rect x="593.7" y="155.0" width="0.8" height="7.3" fill="url(#chg)" fill-opacity="0.40"/>
<rect x="594.5" y="157.5" width="0.8" height="4.8" fill="url(#chg)" fill-opacity="0.54"/>
<rect x="596.9" y="160.7" width="0.8" height="1.6" fill="url(#chg)" fill-opacity="0.49"/>
<rect x="600.1" y="159.5" width="0.8" height="2.8" fill="url(#chg)" fill-opacity="0.28"/>
<rect x="601.7" y="160.4" width="0.8" height="1.9" fill="url(#chg)" fill-opacity="0.51"/>
<rect x="603.3" y="156.4" width="0.8" height="5.9" fill="url(#chg)" fill-opacity="0.50"/>
<rect x="604.1" y="160.6" width="0.8" height="1.7" fill="url(#chg)" fill-opacity="0.49"/>
<rect x="604.9" y="157.1" width="0.8" height="5.2" fill="url(#chg)" fill-opacity="0.60"/>
<rect x="607.3" y="158.7" width="0.8" height="3.6" fill="url(#chg)" fill-opacity="0.43"/>
<rect x="608.1" y="154.4" width="0.8" height="7.9" fill="url(#chg)" fill-opacity="0.35"/>
<rect x="608.9" y="158.9" width="0.8" height="3.4" fill="url(#chg)" fill-opacity="0.34"/>
<rect x="611.3" y="158.2" width="0.8" height="4.1" fill="url(#chg)" fill-opacity="0.27"/>
<rect x="612.1" y="155.2" width="0.8" height="7.1" fill="url(#chg)" fill-opacity="0.53"/>
<rect x="613.7" y="159.6" width="0.8" height="2.7" fill="url(#chg)" fill-opacity="0.27"/>
<rect x="614.5" y="158.5" width="0.8" height="3.8" fill="url(#chg)" fill-opacity="0.41"/>
<rect x="615.3" y="144.9" width="0.8" height="17.4" fill="url(#chg)" fill-opacity="0.38"/>
<rect x="615.3" y="139.6" width="0.8" height="22.7" fill="url(#chg)" fill-opacity="0.44"/>
<rect x="616.1" y="149.3" width="0.8" height="13.0" fill="url(#chg)" fill-opacity="0.44"/>
<rect x="616.1" y="145.2" width="0.8" height="17.1" fill="url(#chg)" fill-opacity="0.36"/>
<rect x="616.1" y="141.5" width="0.8" height="20.8" fill="url(#chg)" fill-opacity="0.35"/>
<rect x="616.9" y="147.0" width="0.8" height="15.3" fill="url(#chg)" fill-opacity="0.58"/>
<rect x="617.7" y="140.2" width="0.8" height="22.1" fill="url(#chg)" fill-opacity="0.27"/>
<rect x="617.7" y="144.0" width="0.8" height="18.3" fill="url(#chg)" fill-opacity="0.27"/>
<rect x="618.5" y="144.7" width="0.8" height="17.6" fill="url(#chg)" fill-opacity="0.31"/>
<rect x="618.5" y="141.5" width="0.8" height="20.8" fill="url(#chg)" fill-opacity="0.42"/>
<rect x="619.3" y="143.5" width="0.8" height="18.8" fill="url(#chg)" fill-opacity="0.35"/>
<rect x="619.3" y="140.9" width="0.8" height="21.4" fill="url(#chg)" fill-opacity="0.30"/>
<rect x="620.1" y="152.7" width="0.8" height="9.6" fill="url(#chg)" fill-opacity="0.28"/>
<rect x="620.9" y="143.7" width="0.8" height="18.6" fill="url(#chg)" fill-opacity="0.34"/>
<rect x="620.9" y="151.8" width="0.8" height="10.5" fill="url(#chg)" fill-opacity="0.27"/>
<rect x="621.7" y="153.6" width="0.8" height="8.7" fill="url(#chg)" fill-opacity="0.54"/>
<rect x="621.7" y="150.6" width="0.8" height="11.7" fill="url(#chg)" fill-opacity="0.45"/>
<rect x="621.7" y="145.3" width="0.8" height="17.0" fill="url(#chg)" fill-opacity="0.30"/>
<rect x="622.5" y="140.8" width="0.8" height="21.5" fill="url(#chg)" fill-opacity="0.30"/>
<rect x="623.3" y="153.8" width="0.8" height="8.5" fill="url(#chg)" fill-opacity="0.38"/>
<rect x="623.3" y="150.7" width="0.8" height="11.6" fill="url(#chg)" fill-opacity="0.44"/>
<rect x="624.1" y="146.8" width="0.8" height="15.5" fill="url(#chg)" fill-opacity="0.50"/>
<rect x="624.1" y="143.4" width="0.8" height="18.9" fill="url(#chg)" fill-opacity="0.29"/>
<rect x="624.9" y="139.5" width="0.8" height="22.8" fill="url(#chg)" fill-opacity="0.60"/>
<rect x="624.9" y="149.6" width="0.8" height="12.7" fill="url(#chg)" fill-opacity="0.37"/>
<rect x="625.7" y="139.4" width="0.8" height="22.9" fill="url(#chg)" fill-opacity="0.28"/>
<rect x="625.7" y="140.4" width="0.8" height="21.9" fill="url(#chg)" fill-opacity="0.46"/>
<rect x="626.5" y="152.9" width="0.8" height="9.4" fill="url(#chg)" fill-opacity="0.30"/>
<rect x="626.5" y="140.0" width="0.8" height="22.3" fill="url(#chg)" fill-opacity="0.55"/>
<rect x="626.5" y="139.5" width="0.8" height="22.8" fill="url(#chg)" fill-opacity="0.26"/>
<rect x="627.3" y="138.8" width="0.8" height="23.5" fill="url(#chg)" fill-opacity="0.37"/>
<rect x="627.3" y="153.5" width="0.8" height="8.8" fill="url(#chg)" fill-opacity="0.37"/>
<rect x="628.1" y="150.3" width="0.8" height="12.0" fill="url(#chg)" fill-opacity="0.51"/>
<rect x="628.1" y="141.7" width="0.8" height="20.6" fill="url(#chg)" fill-opacity="0.35"/>
<rect x="628.1" y="145.3" width="0.8" height="17.0" fill="url(#chg)" fill-opacity="0.28"/>
<rect x="628.9" y="141.7" width="0.8" height="20.6" fill="url(#chg)" fill-opacity="0.46"/>
<rect x="628.9" y="153.7" width="0.8" height="8.6" fill="url(#chg)" fill-opacity="0.43"/>
<rect x="628.9" y="143.9" width="0.8" height="18.4" fill="url(#chg)" fill-opacity="0.30"/>
<rect x="629.7" y="148.6" width="0.8" height="13.7" fill="url(#chg)" fill-opacity="0.38"/>
<rect x="629.7" y="151.7" width="0.8" height="10.6" fill="url(#chg)" fill-opacity="0.31"/>
<rect x="630.5" y="140.8" width="0.8" height="21.5" fill="url(#chg)" fill-opacity="0.56"/>
<rect x="630.5" y="151.9" width="0.8" height="10.4" fill="url(#chg)" fill-opacity="0.28"/>
<rect x="631.3" y="146.3" width="0.8" height="16.0" fill="url(#chg)" fill-opacity="0.44"/>
<rect x="631.3" y="146.8" width="0.8" height="15.5" fill="url(#chg)" fill-opacity="0.31"/>
<rect x="631.3" y="146.2" width="0.8" height="16.1" fill="url(#chg)" fill-opacity="0.38"/>
<rect x="632.1" y="147.8" width="0.8" height="14.5" fill="url(#chg)" fill-opacity="0.32"/>
<rect x="632.1" y="150.4" width="0.8" height="11.9" fill="url(#chg)" fill-opacity="0.56"/>
<rect x="632.1" y="140.0" width="0.8" height="22.3" fill="url(#chg)" fill-opacity="0.26"/>
<rect x="632.9" y="141.6" width="0.8" height="20.7" fill="url(#chg)" fill-opacity="0.45"/>
<rect x="632.9" y="150.6" width="0.8" height="11.7" fill="url(#chg)" fill-opacity="0.51"/>
<rect x="633.7" y="150.1" width="0.8" height="12.2" fill="url(#chg)" fill-opacity="0.26"/>
<rect x="633.7" y="146.0" width="0.8" height="16.3" fill="url(#chg)" fill-opacity="0.35"/>
<rect x="634.5" y="145.0" width="0.8" height="17.3" fill="url(#chg)" fill-opacity="0.33"/>
<rect x="634.5" y="141.7" width="0.8" height="20.6" fill="url(#chg)" fill-opacity="0.50"/>
<rect x="634.5" y="150.4" width="0.8" height="11.9" fill="url(#chg)" fill-opacity="0.46"/>
<rect x="635.3" y="144.4" width="0.8" height="17.9" fill="url(#chg)" fill-opacity="0.49"/>
<rect x="636.1" y="141.3" width="0.8" height="21.0" fill="url(#chg)" fill-opacity="0.41"/>
<rect x="636.1" y="139.2" width="0.8" height="23.1" fill="url(#chg)" fill-opacity="0.39"/>
<rect x="636.9" y="152.9" width="0.8" height="9.4" fill="url(#chg)" fill-opacity="0.34"/>
<rect x="636.9" y="151.9" width="0.8" height="10.4" fill="url(#chg)" fill-opacity="0.37"/>
<rect x="637.7" y="151.1" width="0.8" height="11.2" fill="url(#chg)" fill-opacity="0.33"/>
<rect x="637.7" y="138.7" width="0.8" height="23.6" fill="url(#chg)" fill-opacity="0.60"/>
<rect x="638.5" y="155.7" width="0.8" height="6.6" fill="url(#chg)" fill-opacity="0.52"/>
<rect x="641.7" y="154.3" width="0.8" height="8.0" fill="url(#chg)" fill-opacity="0.55"/>
<rect x="643.3" y="153.3" width="0.8" height="9.0" fill="url(#chg)" fill-opacity="0.37"/>
<rect x="644.1" y="150.7" width="0.8" height="11.6" fill="url(#chg)" fill-opacity="0.49"/>
<rect x="645.7" y="152.1" width="0.8" height="10.2" fill="url(#chg)" fill-opacity="0.58"/>
<rect x="650.5" y="152.2" width="0.8" height="10.1" fill="url(#chg)" fill-opacity="0.52"/>
<rect x="652.1" y="150.7" width="0.8" height="11.6" fill="url(#chg)" fill-opacity="0.44"/>
<rect x="653.7" y="150.6" width="0.8" height="11.7" fill="url(#chg)" fill-opacity="0.53"/>
<rect x="654.5" y="152.0" width="0.8" height="10.3" fill="url(#chg)" fill-opacity="0.33"/>
<rect x="655.3" y="156.1" width="0.8" height="6.2" fill="url(#chg)" fill-opacity="0.33"/>
<rect x="656.1" y="151.3" width="0.8" height="11.0" fill="url(#chg)" fill-opacity="0.49"/>
<line x1="532" y1="162.3" x2="532" y2="136.6" stroke="#7777aa" stroke-width="0.5" />
<line x1="583.4" y1="162.3" x2="583.4" y2="136.6" stroke="#7777aa" stroke-width="0.5" />
<line x1="602.3" y1="162.3" x2="602.3" y2="136.6" stroke="#7777aa" stroke-width="0.5" />
<line x1="620" y1="162.3" x2="620" y2="136.6" stroke="#7777aa" stroke-width="0.5" />
<line x1="650" y1="162.3" x2="650" y2="136.6" stroke="#7777aa" stroke-width="0.5" />
<rect x="487.8" y="135.3" width="169.40000000000003" height="27" fill="none" stroke="#444" stroke-width="1.1" />
<text x="421.5" y="173.5" font-size="11" text-anchor="start" fill="#222" stroke="#222" stroke-width="0.18" font-weight="bold" font-style="normal" transform="translate(0 173.5) scale(1 1.08) translate(0 -173.5)" >C</text>
<text x="518" y="177.3" font-size="6.4" text-anchor="middle" fill="#333333" stroke="#333333" stroke-width="0.18" font-weight="normal" font-style="normal" transform="translate(0 177.3) scale(1 1.08) translate(0 -177.3)" >chr10:0-4,000,000</text>
<text x="554.5" y="183.8" font-size="6.6" text-anchor="middle" fill="#333333" stroke="#333333" stroke-width="0.18" font-weight="normal" font-style="italic" transform="translate(0 183.8) scale(1 1.08) translate(0 -183.8)" >ADARB2</text>
<line x1="541.5" y1="185" x2="567" y2="185" stroke="#555" stroke-width="0.6" />
<text x="488" y="192.5" font-size="6.4" text-anchor="end" fill="#333333" stroke="#333333" stroke-width="0.18" font-weight="normal" font-style="normal" transform="translate(0 192.5) scale(1 1.08) translate(0 -192.5)" >Genes</text>
<line x1="495" y1="190.4" x2="566" y2="190.4" stroke="#2c3b9c" stroke-width="0.9" />
<line x1="495.2" y1="187.20000000000002" x2="495.2" y2="193.6" stroke="#2c3b9c" stroke-width="1" />
<line x1="498.5" y1="187.20000000000002" x2="498.5" y2="193.6" stroke="#2c3b9c" stroke-width="1" />
<line x1="519.4" y1="187.20000000000002" x2="519.4" y2="193.6" stroke="#2c3b9c" stroke-width="1" />
<line x1="522.6" y1="187.20000000000002" x2="522.6" y2="193.6" stroke="#2c3b9c" stroke-width="1" />
<line x1="526.5" y1="187.20000000000002" x2="526.5" y2="193.6" stroke="#2c3b9c" stroke-width="1" />
<line x1="549.5" y1="187.20000000000002" x2="549.5" y2="193.6" stroke="#2c3b9c" stroke-width="1" />
<line x1="565.5" y1="187.20000000000002" x2="565.5" y2="193.6" stroke="#2c3b9c" stroke-width="1" />
<rect x="500.5" y="187.4" width="13.8" height="6" fill="#2c3b9c" stroke="none" stroke-width="1" />
<rect x="528" y="187.4" width="4" height="6" fill="#2c3b9c" stroke="none" stroke-width="1" />
<rect x="532.7" y="187.4" width="12.3" height="6" fill="#2c3b9c" stroke="none" stroke-width="1" />
<circle cx="528" cy="190.4" r="2.8" fill="#2c3b9c"/>
<line x1="575.5" y1="187.4" x2="575.5" y2="193.4" stroke="#2c3b9c" stroke-width="1" />
<line x1="578.5" y1="187.4" x2="578.5" y2="193.4" stroke="#2c3b9c" stroke-width="1" />
<line x1="587.6" y1="188.4" x2="587.6" y2="192.4" stroke="#2c3b9c" stroke-width="1" />
<line x1="587.6" y1="190.4" x2="590" y2="190.4" stroke="#2c3b9c" stroke-width="0.8" />
<line x1="593.5" y1="190.4" x2="595.8" y2="190.4" stroke="#2c3b9c" stroke-width="0.8" />
<rect x="618.5" y="187.20000000000002" width="4.8" height="6.4" fill="#2c3b9c" stroke="none" stroke-width="1" />
<line x1="625.7" y1="187.20000000000002" x2="625.7" y2="193.6" stroke="#2c3b9c" stroke-width="1" />
<line x1="628.5" y1="190.4" x2="650" y2="190.4" stroke="#2c3b9c" stroke-width="0.8" />
<line x1="633" y1="188.9" x2="633" y2="191.9" stroke="#2c3b9c" stroke-width="0.8" />
<line x1="647.8" y1="187.20000000000002" x2="647.8" y2="193.6" stroke="#2c3b9c" stroke-width="1" />
<line x1="650" y1="187.20000000000002" x2="650" y2="193.6" stroke="#2c3b9c" stroke-width="1.1" />
<rect x="440" y="196.8" width="51" height="28.5" fill="#fadbe0" stroke="none" stroke-width="1" />
<text x="465.5" y="204.7" font-size="7.6" text-anchor="middle" fill="#444" stroke="#444" stroke-width="0.18" font-weight="normal" font-style="normal" transform="translate(0 204.7) scale(1 1.08) translate(0 -204.7)" >Chromatin</text>
<text x="465.5" y="213.3" font-size="7.6" text-anchor="middle" fill="#444" stroke="#444" stroke-width="0.18" font-weight="normal" font-style="normal" transform="translate(0 213.3) scale(1 1.08) translate(0 -213.3)" >conformation</text>
<text x="465.5" y="222.3" font-size="7.6" text-anchor="middle" fill="#444" stroke="#444" stroke-width="0.18" font-weight="normal" font-style="normal" transform="translate(0 222.3) scale(1 1.08) translate(0 -222.3)" >(sn-m3C-seq)</text>
<defs><linearGradient id="red" x1="0" y1="1" x2="0" y2="0"><stop offset="0" stop-color="#e02c2c"/><stop offset="0.45" stop-color="#f08a8a"/><stop offset="1" stop-color="#f8dcdc" stop-opacity="0.6"/></linearGradient><linearGradient id="red2" x1="0" y1="1" x2="0" y2="0"><stop offset="0" stop-color="#ee7070"/><stop offset="0.3" stop-color="#f8caca"/><stop offset="1" stop-color="#fbeeee" stop-opacity="0"/></linearGradient><linearGradient id="pale" x1="1" y1="0" x2="0" y2="0"><stop offset="0" stop-color="#f0f2f9"/><stop offset="0.5" stop-color="#d5dbf0"/><stop offset="1" stop-color="#9aaadb"/></linearGradient><clipPath id="hic"><rect x="491.3" y="197" width="163.3" height="28"/></clipPath></defs>
<rect x="491.3" y="197" width="163.3" height="28" fill="#3753ad" stroke="none" stroke-width="1" />
<g clip-path="url(#hic)">
<polygon points="536,225 576.8,198 614,225" fill="#f3f4f9"/>
<polygon points="536,225 576.8,198 566,225" fill="url(#pale)"/>
<polygon points="566,225 581,206 610,225" fill="url(#red2)" opacity="0.6"/>
<rect x="584.8" y="209.4" width="1.6" height="1.6" fill="#e25454" fill-opacity="0.66"/>
<rect x="593.6" y="224.5" width="1.8" height="1.1" fill="#e25454" fill-opacity="0.55"/>
<rect x="571.8" y="209.1" width="1.4" height="0.8" fill="#e25454" fill-opacity="0.31"/>
<rect x="587.9" y="219.3" width="1.3" height="1.1" fill="#e25454" fill-opacity="0.36"/>
<rect x="580.6" y="207.4" width="1.2" height="0.9" fill="#e25454" fill-opacity="0.39"/>
<rect x="589.7" y="218.8" width="1.8" height="0.9" fill="#e25454" fill-opacity="0.59"/>
<rect x="575.0" y="208.2" width="1.1" height="1.6" fill="#e25454" fill-opacity="0.43"/>
<rect x="579.5" y="205.9" width="1.9" height="1.1" fill="#e25454" fill-opacity="0.50"/>
<rect x="599.8" y="217.2" width="1.0" height="1.5" fill="#e25454" fill-opacity="0.33"/>
<rect x="569.1" y="225.0" width="1.9" height="1.2" fill="#e25454" fill-opacity="0.65"/>
<rect x="567.5" y="220.7" width="1.5" height="1.5" fill="#e25454" fill-opacity="0.51"/>
<rect x="580.3" y="204.6" width="1.6" height="0.9" fill="#e25454" fill-opacity="0.56"/>
<rect x="577.1" y="203.5" width="1.6" height="1.3" fill="#e25454" fill-opacity="0.44"/>
<rect x="591.0" y="212.7" width="1.4" height="1.1" fill="#e25454" fill-opacity="0.74"/>
<rect x="581.7" y="207.8" width="1.5" height="1.2" fill="#e25454" fill-opacity="0.63"/>
<rect x="585.7" y="211.1" width="0.8" height="1.1" fill="#e25454" fill-opacity="0.32"/>
<rect x="575.4" y="205.9" width="1.5" height="1.3" fill="#e25454" fill-opacity="0.27"/>
<rect x="583.1" y="210.6" width="1.1" height="1.4" fill="#e25454" fill-opacity="0.40"/>
<rect x="602.4" y="219.2" width="1.6" height="1.4" fill="#e25454" fill-opacity="0.59"/>
<rect x="578.2" y="203.3" width="1.6" height="1.0" fill="#e25454" fill-opacity="0.33"/>
<rect x="583.4" y="208.1" width="1.2" height="0.9" fill="#e25454" fill-opacity="0.51"/>
<rect x="597.2" y="223.7" width="1.0" height="1.0" fill="#e25454" fill-opacity="0.28"/>
<rect x="603.1" y="220.0" width="2.0" height="0.9" fill="#e25454" fill-opacity="0.40"/>
<rect x="576.7" y="223.3" width="1.3" height="0.9" fill="#e25454" fill-opacity="0.38"/>
<rect x="602.9" y="220.0" width="1.1" height="1.0" fill="#e25454" fill-opacity="0.70"/>
<rect x="581.0" y="207.7" width="1.7" height="1.1" fill="#e25454" fill-opacity="0.33"/>
<rect x="585.5" y="218.1" width="1.6" height="1.4" fill="#e25454" fill-opacity="0.39"/>
<rect x="578.4" y="205.0" width="1.1" height="1.3" fill="#e25454" fill-opacity="0.38"/>
<rect x="602.8" y="224.9" width="1.5" height="1.1" fill="#e25454" fill-opacity="0.72"/>
<rect x="565.0" y="222.6" width="1.5" height="1.4" fill="#e25454" fill-opacity="0.59"/>
<rect x="573.8" y="208.7" width="1.2" height="1.3" fill="#e25454" fill-opacity="0.73"/>
<rect x="587.4" y="212.2" width="1.3" height="1.6" fill="#e25454" fill-opacity="0.62"/>
<rect x="596.3" y="219.8" width="1.2" height="0.9" fill="#e25454" fill-opacity="0.69"/>
<rect x="588.5" y="216.9" width="1.9" height="0.9" fill="#e25454" fill-opacity="0.42"/>
<rect x="583.9" y="219.4" width="1.8" height="1.3" fill="#e25454" fill-opacity="0.54"/>
<rect x="575.4" y="215.5" width="1.8" height="1.4" fill="#e25454" fill-opacity="0.67"/>
<rect x="587.5" y="212.8" width="1.4" height="1.5" fill="#e25454" fill-opacity="0.70"/>
<rect x="581.5" y="208.2" width="1.9" height="0.9" fill="#e25454" fill-opacity="0.60"/>
<rect x="575.5" y="214.5" width="0.9" height="1.3" fill="#e25454" fill-opacity="0.66"/>
<rect x="572.1" y="223.1" width="0.9" height="1.3" fill="#e25454" fill-opacity="0.74"/>
<rect x="592.6" y="220.5" width="0.9" height="1.5" fill="#e25454" fill-opacity="0.41"/>
<rect x="571.9" y="214.0" width="1.1" height="0.8" fill="#e25454" fill-opacity="0.47"/>
<rect x="572.7" y="208.7" width="1.8" height="0.9" fill="#e25454" fill-opacity="0.36"/>
<rect x="577.2" y="220.9" width="1.5" height="1.0" fill="#e25454" fill-opacity="0.65"/>
<rect x="583.1" y="207.6" width="1.4" height="0.8" fill="#e25454" fill-opacity="0.64"/>
<rect x="580.4" y="217.3" width="0.9" height="1.3" fill="#e25454" fill-opacity="0.61"/>
<rect x="584.4" y="219.7" width="1.5" height="1.0" fill="#e25454" fill-opacity="0.68"/>
<rect x="586.7" y="208.8" width="1.2" height="1.6" fill="#e25454" fill-opacity="0.29"/>
<rect x="583.3" y="224.1" width="1.6" height="1.4" fill="#e25454" fill-opacity="0.48"/>
<rect x="580.7" y="223.4" width="1.1" height="1.0" fill="#e25454" fill-opacity="0.62"/>
<rect x="572.1" y="218.8" width="1.6" height="1.0" fill="#e25454" fill-opacity="0.38"/>
<rect x="591.6" y="212.0" width="1.7" height="1.6" fill="#e25454" fill-opacity="0.71"/>
<rect x="571.4" y="211.4" width="1.0" height="0.8" fill="#e25454" fill-opacity="0.68"/>
<rect x="575.3" y="214.0" width="1.2" height="0.9" fill="#e25454" fill-opacity="0.57"/>
<rect x="564.5" y="221.5" width="1.0" height="1.1" fill="#e25454" fill-opacity="0.70"/>
<polygon points="494.5,225 515.9,212 537,225" fill="#f2f3f9"/>
<polygon points="499.424,225 515.9,215.08 532.124,225" fill="url(#red)"/>
<rect x="504.8" y="221.9" width="0.9" height="0.9" fill="#e25454" fill-opacity="0.64"/>
<rect x="515.6" y="217.4" width="1.8" height="0.9" fill="#e25454" fill-opacity="0.30"/>
<rect x="508.4" y="221.3" width="1.1" height="0.8" fill="#e25454" fill-opacity="0.70"/>
<rect x="517.5" y="214.9" width="1.3" height="1.4" fill="#e25454" fill-opacity="0.44"/>
<rect x="512.5" y="216.7" width="0.8" height="1.0" fill="#e25454" fill-opacity="0.54"/>
<rect x="528.5" y="225.0" width="1.7" height="1.2" fill="#e25454" fill-opacity="0.27"/>
<rect x="505.3" y="221.0" width="1.2" height="1.3" fill="#e25454" fill-opacity="0.69"/>
<rect x="510.0" y="219.6" width="1.1" height="1.5" fill="#e25454" fill-opacity="0.44"/>
<rect x="507.6" y="220.3" width="1.0" height="1.2" fill="#e25454" fill-opacity="0.54"/>
<rect x="514.8" y="218.7" width="0.9" height="1.4" fill="#e25454" fill-opacity="0.28"/>
<rect x="520.9" y="222.5" width="1.7" height="1.0" fill="#e25454" fill-opacity="0.57"/>
<rect x="506.1" y="221.7" width="1.9" height="1.3" fill="#e25454" fill-opacity="0.28"/>
<rect x="524.4" y="222.5" width="1.8" height="1.3" fill="#e25454" fill-opacity="0.62"/>
<rect x="533.7" y="224.8" width="1.8" height="0.8" fill="#e25454" fill-opacity="0.27"/>
<rect x="514.7" y="215.2" width="1.6" height="1.5" fill="#e25454" fill-opacity="0.57"/>
<rect x="504.0" y="223.7" width="0.8" height="1.4" fill="#e25454" fill-opacity="0.30"/>
<rect x="510.8" y="218.6" width="1.8" height="0.9" fill="#e25454" fill-opacity="0.51"/>
<rect x="520.6" y="217.5" width="1.9" height="0.8" fill="#e25454" fill-opacity="0.68"/>
<rect x="515.9" y="217.0" width="1.5" height="1.3" fill="#e25454" fill-opacity="0.65"/>
<rect x="517.5" y="224.9" width="1.1" height="1.1" fill="#e25454" fill-opacity="0.25"/>
<rect x="528.4" y="225.0" width="1.8" height="1.2" fill="#e25454" fill-opacity="0.31"/>
<rect x="513.3" y="224.1" width="0.9" height="1.6" fill="#e25454" fill-opacity="0.52"/>
<rect x="524.4" y="224.7" width="1.8" height="1.5" fill="#e25454" fill-opacity="0.30"/>
<rect x="524.4" y="223.4" width="1.0" height="1.3" fill="#e25454" fill-opacity="0.74"/>
<rect x="499.4" y="225.0" width="0.9" height="1.4" fill="#e25454" fill-opacity="0.55"/>
<polygon points="529,225 545,214.7 561,225" fill="#f2f3f9"/>
<polygon points="533.06,225 545,217.34799999999998 556.94,225" fill="url(#red2)"/>
<rect x="543.1" y="222.6" width="1.5" height="1.3" fill="#e25454" fill-opacity="0.71"/>
<rect x="548.5" y="219.2" width="1.8" height="1.4" fill="#e25454" fill-opacity="0.27"/>
<rect x="544.6" y="218.6" width="1.9" height="0.9" fill="#e25454" fill-opacity="0.72"/>
<rect x="542.0" y="220.2" width="1.2" height="1.1" fill="#e25454" fill-opacity="0.41"/>
<rect x="554.8" y="222.7" width="1.6" height="1.5" fill="#e25454" fill-opacity="0.63"/>
<rect x="538.9" y="224.0" width="1.3" height="0.8" fill="#e25454" fill-opacity="0.37"/>
<rect x="544.4" y="217.7" width="1.7" height="1.4" fill="#e25454" fill-opacity="0.69"/>
<rect x="538.0" y="222.0" width="1.8" height="1.1" fill="#e25454" fill-opacity="0.56"/>
<polygon points="623.5,225 635.6,213.5 653,225" fill="#f2f3f9"/>
<polygon points="626.936,225 635.6,216.34 648.716,225" fill="url(#red)"/>
<rect x="644.7" y="221.5" width="1.0" height="1.2" fill="#e25454" fill-opacity="0.57"/>
<rect x="635.6" y="216.4" width="1.9" height="1.4" fill="#e25454" fill-opacity="0.73"/>
<rect x="633.1" y="224.2" width="1.9" height="0.8" fill="#e25454" fill-opacity="0.38"/>
<rect x="641.0" y="222.5" width="1.6" height="1.4" fill="#e25454" fill-opacity="0.63"/>
<rect x="627.3" y="223.9" width="1.6" height="1.0" fill="#e25454" fill-opacity="0.38"/>
<rect x="638.1" y="220.3" width="1.6" height="1.3" fill="#e25454" fill-opacity="0.60"/>
<rect x="627.3" y="224.9" width="0.8" height="1.1" fill="#e25454" fill-opacity="0.32"/>
<rect x="645.5" y="221.9" width="1.6" height="1.0" fill="#e25454" fill-opacity="0.63"/>
<rect x="633.3" y="224.8" width="1.3" height="1.4" fill="#e25454" fill-opacity="0.47"/>
<rect x="649.0" y="224.8" width="1.2" height="1.5" fill="#e25454" fill-opacity="0.27"/>
<rect x="646.2" y="224.1" width="1.8" height="1.3" fill="#e25454" fill-opacity="0.39"/>
<rect x="647.7" y="224.3" width="1.0" height="1.3" fill="#e25454" fill-opacity="0.54"/>
<rect x="629.6" y="224.4" width="0.9" height="1.6" fill="#e25454" fill-opacity="0.44"/>
<rect x="633.0" y="221.1" width="0.9" height="0.8" fill="#e25454" fill-opacity="0.68"/>
<rect x="635.6" y="216.1" width="1.7" height="0.9" fill="#e25454" fill-opacity="0.64"/>
<rect x="638.2" y="223.1" width="0.9" height="1.0" fill="#e25454" fill-opacity="0.65"/>
<rect x="643.0" y="223.0" width="1.1" height="1.0" fill="#e25454" fill-opacity="0.36"/>
<rect x="640.6" y="223.1" width="1.4" height="1.5" fill="#e25454" fill-opacity="0.28"/>
<line x1="616" y1="198.6" x2="634" y2="215" stroke="#2f46a0" stroke-width="0.8" />
<rect x="491.3" y="223.4" width="163.3" height="1.6" fill="#e34444"/>
</g>
<line x1="491.3" y1="197.4" x2="654.6" y2="197.4" stroke="#1d2a6a" stroke-width="0.9" />
<line x1="491.6" y1="197" x2="491.6" y2="225" stroke="#1d2a6a" stroke-width="0.6" />
<text x="652.8" y="234" font-size="6.4" text-anchor="end" fill="#333333" stroke="#333333" stroke-width="0.18" font-weight="normal" font-style="normal" transform="translate(0 234) scale(1 1.08) translate(0 -234)" >human VIP neurons, Lee et al. 2019</text>
<text x="41.5" y="248.2" font-size="11" text-anchor="start" fill="#222" stroke="#222" stroke-width="0.18" font-weight="bold" font-style="normal" transform="translate(0 248.2) scale(1 1.08) translate(0 -248.2)" >D</text>
<text x="59.2" y="256.4" font-size="9.6" text-anchor="start" fill="#333333" stroke="#333333" stroke-width="0.18" font-weight="normal" font-style="normal" transform="translate(0 256.4) scale(1 1.08) translate(0 -256.4)"  textLength="114.9" lengthAdjust="spacingAndGlyphs">3D chromatin conformation</text>
<text x="95.4" y="280.8" font-size="8.4" text-anchor="start" fill="#333333" stroke="#333333" stroke-width="0.18" font-weight="normal" font-style="normal" transform="translate(0 280.8) scale(1 1.08) translate(0 -280.8)" >Unlinked enhancers</text>
<text x="67" y="326.2" font-size="8.4" text-anchor="start" fill="#333333" stroke="#333333" stroke-width="0.18" font-weight="normal" font-style="normal" transform="translate(0 326.2) scale(1 1.08) translate(0 -326.2)" >Linked</text>
<text x="67" y="336.3" font-size="8.4" text-anchor="start" fill="#333333" stroke="#333333" stroke-width="0.18" font-weight="normal" font-style="normal" transform="translate(0 336.3) scale(1 1.08) translate(0 -336.3)" >enhancer</text>
<text x="118.6" y="352.4" font-size="8.4" text-anchor="start" fill="#333333" stroke="#333333" stroke-width="0.18" font-weight="normal" font-style="normal" transform="translate(0 352.4) scale(1 1.08) translate(0 -352.4)" >Promoter</text>
<path d="M50.1,338.4 C58,345 68,350.2 80,350.2 C92,350.4 102,347 108,344.3" stroke="#333" stroke-width="0.9" fill="none"/>
<path d="M108,344.3 C111,335 112,320 116,306 C120,294 130,287.6 139.8,287.6 C150,287.6 157.5,295 157.6,308 C157.6,320 148,331 135,337 C125,341.5 114,344 108,344.3" stroke="#333" stroke-width="0.9" fill="none"/>
<path d="M106.8,351.1 C108,356 114,358.5 124,360.5 C135,362.5 145,364 151.6,364.6" stroke="#333" stroke-width="0.9" fill="none"/>
<rect x="-2.6" y="-1.7" width="5.2" height="3.4" fill="#b8b8b8" stroke="#777" stroke-width="0.5" transform="translate(104.2 342.6) rotate(35)"/>
<rect x="-5.8" y="-1.8" width="11.6" height="3.6" fill="#111" transform="translate(108.9 346.9) rotate(-42)"/>
<rect x="-2" y="-3.6" width="4" height="7.2" fill="#fff" stroke="#666" stroke-width="0.6" transform="translate(140.3 288.6) rotate(5)"/>
<rect x="-2" y="-3.6" width="4" height="7.2" fill="#fff" stroke="#666" stroke-width="0.6" transform="translate(148.4 290.8) rotate(32)"/>
<rect x="-2" y="-3.6" width="4" height="7.2" fill="#fff" stroke="#666" stroke-width="0.6" transform="translate(155 317) rotate(-65)"/>
<path d="M111.5,347.5 L113,349.8" stroke="#111" stroke-width="0.7" fill="none"/>
<polygon points="116.3,350.0 113.3,348.7 113.3,351.3" fill="#111"/>
<text x="189.5" y="250.3" font-size="11" text-anchor="start" fill="#222" stroke="#222" stroke-width="0.18" font-weight="bold" font-style="normal" transform="translate(0 250.3) scale(1 1.08) translate(0 -250.3)" >E</text>
<text x="211.9" y="256.4" font-size="9.6" text-anchor="start" fill="#333333" stroke="#333333" stroke-width="0.18" font-weight="normal" font-style="normal" transform="translate(0 256.4) scale(1 1.08) translate(0 -256.4)"  textLength="110.4" lengthAdjust="spacingAndGlyphs">1D chromatin accessibility</text>
<line x1="288.3" y1="282.6" x2="464.8" y2="282.6" stroke="#555" stroke-width="0.9" />
<path d="M324.5,277 C335,259 394,253 406,277" stroke="#555" stroke-width="0.7" fill="none"/>
<rect x="321.9" y="277" width="6.3" height="9.6" fill="#9a9a9a" stroke="#666" stroke-width="0.6" />
<rect x="366.6" y="277" width="5.2" height="9.6" fill="#fff" stroke="#777" stroke-width="0.6" />
<rect x="374" y="277" width="4.5" height="9.6" fill="#fff" stroke="#777" stroke-width="0.6" />
<rect x="406" y="277" width="45.7" height="9.6" fill="#9a9a9a" stroke="#666" stroke-width="0.6" />
<path d="M406.3,277 L406.3,272 L414.5,272" stroke="#222" stroke-width="0.9" fill="none"/>
<polygon points="418.8,272.0 414.6,270.2 414.6,273.8" fill="#222"/>
<text x="359" y="271.8" font-size="8.2" text-anchor="middle" fill="#333333" stroke="#333333" stroke-width="0.18" font-weight="normal" font-style="normal" transform="translate(0 271.8) scale(1 1.08) translate(0 -271.8)" >Enhancers</text>
<line x1="338.8" y1="273.2" x2="333.6503409398037" y2="276.7704302817361" stroke="#222" stroke-width="0.7" />
<polygon points="331.3,278.4 332.9,275.7 334.4,277.9" fill="#222"/>
<line x1="365.2" y1="272.2" x2="367.2092513990218" y2="274.3150014726545" stroke="#222" stroke-width="0.7" />
<polygon points="369.0,276.2 366.3,275.1 368.1,273.5" fill="#222"/>
<line x1="369.8" y1="272.2" x2="371.961522368915" y2="274.36152236891496" stroke="#222" stroke-width="0.7" />
<polygon points="373.8,276.2 371.1,275.2 372.8,273.5" fill="#222"/>
<text x="324" y="298" font-size="8.2" text-anchor="middle" fill="#333333" stroke="#333333" stroke-width="0.18" font-weight="normal" font-style="normal" transform="translate(0 298) scale(1 1.08) translate(0 -298)" >Linked</text>
<text x="382.5" y="297.7" font-size="8.2" text-anchor="middle" fill="#333333" stroke="#333333" stroke-width="0.18" font-weight="normal" font-style="normal" transform="translate(0 297.7) scale(1 1.08) translate(0 -297.7)" >Not linked</text>
<text x="429.6" y="297.7" font-size="8.2" text-anchor="middle" fill="#333333" stroke="#333333" stroke-width="0.18" font-weight="normal" font-style="normal" transform="translate(0 297.7) scale(1 1.08) translate(0 -297.7)" >Gene</text>
<text x="286" y="322.90000000000003" font-size="7.2" text-anchor="end" fill="#222" stroke="#222" stroke-width="0.18" font-weight="normal" font-style="normal" transform="translate(0 322.90000000000003) scale(1 1.08) translate(0 -322.90000000000003)" >cell type 1</text>
<text x="286" y="337.5" font-size="7.2" text-anchor="end" fill="#222" stroke="#222" stroke-width="0.18" font-weight="normal" font-style="normal" transform="translate(0 337.5) scale(1 1.08) translate(0 -337.5)" >cell type 2</text>
<text x="286" y="352.70000000000005" font-size="7.2" text-anchor="end" fill="#222" stroke="#222" stroke-width="0.18" font-weight="normal" font-style="normal" transform="translate(0 352.70000000000005) scale(1 1.08) translate(0 -352.70000000000005)" >cell type 3</text>
<text x="286" y="367.3" font-size="7.2" text-anchor="end" fill="#222" stroke="#222" stroke-width="0.18" font-weight="normal" font-style="normal" transform="translate(0 367.3) scale(1 1.08) translate(0 -367.3)" >cell type 4</text>
<path d="M316.8,320.3 L316.8,320.3 L317.5,317.9 L318.3,315.4 L319.0,312.9 L319.8,310.7 L320.5,309.0 L321.2,307.8 L322.0,307.3 L322.7,307.3 L323.4,307.5 L324.2,307.8 L324.9,308.2 L325.6,308.8 L326.4,309.4 L327.1,310.2 L327.9,311.0 L328.6,312.0 L329.3,312.9 L330.1,314.0 L330.8,315.0 L331.6,316.1 L332.3,317.2 L333.0,318.2 L333.8,319.3 L334.5,320.3 L334.5,320.3 Z" fill="#e9474f"/>
<path d="M367.8,320.3 L367.8,320.3 L368.1,320.0 L368.4,319.7 L368.7,319.4 L369.0,319.1 L369.3,318.8 L369.6,318.6 L369.8,318.3 L370.1,318.1 L370.4,317.9 L370.7,317.8 L371.0,317.7 L371.3,317.7 L371.6,317.7 L371.9,317.8 L372.2,317.9 L372.5,318.1 L372.8,318.3 L373.1,318.6 L373.3,318.8 L373.6,319.1 L373.9,319.4 L374.2,319.7 L374.5,320.0 L374.8,320.3 L374.8,320.3 Z" fill="#e9474f"/>
<path d="M377.8,320.3 L377.8,320.3 L378.2,319.7 L378.5,319.1 L378.9,318.5 L379.2,317.9 L379.6,317.4 L379.9,316.8 L380.2,316.3 L380.6,315.9 L380.9,315.5 L381.3,315.3 L381.6,315.1 L382.0,315.1 L382.4,315.1 L382.7,315.3 L383.1,315.5 L383.4,315.9 L383.8,316.3 L384.1,316.8 L384.4,317.4 L384.8,317.9 L385.1,318.5 L385.5,319.1 L385.8,319.7 L386.2,320.3 L386.2,320.3 Z" fill="#e9474f"/>
<path d="M403.8,320.3 L403.8,320.3 L404.0,318.9 L404.3,317.4 L404.5,315.9 L404.8,314.4 L405.0,312.9 L405.2,311.6 L405.5,310.3 L405.7,309.3 L406.0,308.4 L406.2,307.8 L406.5,307.4 L406.7,307.3 L406.9,307.4 L407.2,307.8 L407.4,308.4 L407.7,309.3 L407.9,310.3 L408.2,311.6 L408.4,312.9 L408.6,314.4 L408.9,315.9 L409.1,317.4 L409.4,318.9 L409.6,320.3 L409.6,320.3 Z" fill="#e9474f"/>
<line x1="288.5" y1="320.3" x2="464.5" y2="320.3" stroke="#111" stroke-width="0.9" />
<path d="M316.8,334.9 L316.8,334.9 L317.5,333.6 L318.3,332.3 L319.0,331.0 L319.8,329.8 L320.5,328.9 L321.2,328.3 L322.0,328.0 L322.7,328.0 L323.4,328.1 L324.2,328.3 L324.9,328.5 L325.6,328.8 L326.4,329.1 L327.1,329.5 L327.9,330.0 L328.6,330.5 L329.3,331.0 L330.1,331.5 L330.8,332.1 L331.6,332.7 L332.3,333.2 L333.0,333.8 L333.8,334.4 L334.5,334.9 L334.5,334.9 Z" fill="#a8287a"/>
<path d="M367.8,334.9 L367.8,334.9 L368.1,334.2 L368.4,333.6 L368.7,332.9 L369.0,332.2 L369.3,331.6 L369.6,330.9 L369.8,330.4 L370.1,329.9 L370.4,329.5 L370.7,329.2 L371.0,329.1 L371.3,329.0 L371.6,329.1 L371.9,329.2 L372.2,329.5 L372.5,329.9 L372.8,330.4 L373.1,330.9 L373.3,331.6 L373.6,332.2 L373.9,332.9 L374.2,333.6 L374.5,334.2 L374.8,334.9 L374.8,334.9 Z" fill="#a8287a"/>
<path d="M377.8,334.9 L377.8,334.9 L378.2,333.5 L378.5,332.1 L378.9,330.7 L379.2,329.3 L379.6,327.9 L379.9,326.6 L380.2,325.5 L380.6,324.5 L380.9,323.7 L381.3,323.1 L381.6,322.7 L382.0,322.6 L382.4,322.7 L382.7,323.1 L383.1,323.7 L383.4,324.5 L383.8,325.5 L384.1,326.6 L384.4,327.9 L384.8,329.3 L385.1,330.7 L385.5,332.1 L385.8,333.5 L386.2,334.9 L386.2,334.9 Z" fill="#a8287a"/>
<path d="M403.8,334.9 L403.8,334.9 L404.0,334.1 L404.3,333.3 L404.5,332.6 L404.8,331.8 L405.0,331.0 L405.2,330.3 L405.5,329.6 L405.7,329.0 L406.0,328.6 L406.2,328.3 L406.5,328.1 L406.7,328.0 L406.9,328.1 L407.2,328.3 L407.4,328.6 L407.7,329.0 L407.9,329.6 L408.2,330.3 L408.4,331.0 L408.6,331.8 L408.9,332.6 L409.1,333.3 L409.4,334.1 L409.6,334.9 L409.6,334.9 Z" fill="#a8287a"/>
<line x1="288.5" y1="334.9" x2="464.5" y2="334.9" stroke="#777" stroke-width="0.9" />
<path d="M316.8,350.1 L316.8,350.1 L317.5,349.6 L318.3,349.1 L319.0,348.6 L319.8,348.2 L320.5,347.8 L321.2,347.6 L322.0,347.5 L322.7,347.5 L323.4,347.5 L324.2,347.6 L324.9,347.7 L325.6,347.8 L326.4,347.9 L327.1,348.1 L327.9,348.2 L328.6,348.4 L329.3,348.6 L330.1,348.8 L330.8,349.0 L331.6,349.3 L332.3,349.5 L333.0,349.7 L333.8,349.9 L334.5,350.1 L334.5,350.1 Z" fill="#b37a45"/>
<path d="M367.8,350.1 L367.8,350.1 L368.1,349.8 L368.4,349.5 L368.7,349.2 L369.0,348.9 L369.3,348.6 L369.6,348.4 L369.8,348.1 L370.1,347.9 L370.4,347.7 L370.7,347.6 L371.0,347.5 L371.3,347.5 L371.6,347.5 L371.9,347.6 L372.2,347.7 L372.5,347.9 L372.8,348.1 L373.1,348.4 L373.3,348.6 L373.6,348.9 L373.9,349.2 L374.2,349.5 L374.5,349.8 L374.8,350.1 L374.8,350.1 Z" fill="#b37a45"/>
<path d="M377.8,350.1 L377.8,350.1 L378.2,349.5 L378.5,348.8 L378.9,348.1 L379.2,347.5 L379.6,346.8 L379.9,346.2 L380.2,345.7 L380.6,345.2 L380.9,344.8 L381.3,344.5 L381.6,344.4 L382.0,344.3 L382.4,344.4 L382.7,344.5 L383.1,344.8 L383.4,345.2 L383.8,345.7 L384.1,346.2 L384.4,346.8 L384.8,347.5 L385.1,348.1 L385.5,348.8 L385.8,349.5 L386.2,350.1 L386.2,350.1 Z" fill="#b37a45"/>
<path d="M403.8,350.1 L403.8,350.1 L404.0,349.9 L404.3,349.6 L404.5,349.4 L404.8,349.1 L405.0,348.9 L405.2,348.6 L405.5,348.4 L405.7,348.2 L406.0,348.1 L406.2,348.0 L406.5,347.9 L406.7,347.9 L406.9,347.9 L407.2,348.0 L407.4,348.1 L407.7,348.2 L407.9,348.4 L408.2,348.6 L408.4,348.9 L408.6,349.1 L408.9,349.4 L409.1,349.6 L409.4,349.9 L409.6,350.1 L409.6,350.1 Z" fill="#b37a45"/>
<line x1="288.5" y1="350.1" x2="464.5" y2="350.1" stroke="#111" stroke-width="0.9" />
<path d="M316.8,364.7 L316.8,364.7 L317.5,364.3 L318.3,363.9 L319.0,363.5 L319.8,363.1 L320.5,362.8 L321.2,362.6 L322.0,362.5 L322.7,362.5 L323.4,362.5 L324.2,362.6 L324.9,362.7 L325.6,362.7 L326.4,362.9 L327.1,363.0 L327.9,363.1 L328.6,363.3 L329.3,363.5 L330.1,363.6 L330.8,363.8 L331.6,364.0 L332.3,364.2 L333.0,364.3 L333.8,364.5 L334.5,364.7 L334.5,364.7 Z" fill="#f0a22e"/>
<path d="M367.8,364.7 L367.8,364.7 L368.1,364.2 L368.4,363.6 L368.7,363.1 L369.0,362.5 L369.3,362.0 L369.6,361.5 L369.8,361.0 L370.1,360.6 L370.4,360.3 L370.7,360.1 L371.0,359.9 L371.3,359.9 L371.6,359.9 L371.9,360.1 L372.2,360.3 L372.5,360.6 L372.8,361.0 L373.1,361.5 L373.3,362.0 L373.6,362.5 L373.9,363.1 L374.2,363.6 L374.5,364.2 L374.8,364.7 L374.8,364.7 Z" fill="#f0a22e"/>
<path d="M377.8,364.7 L377.8,364.7 L378.2,363.6 L378.5,362.5 L378.9,361.4 L379.2,360.3 L379.6,359.2 L379.9,358.2 L380.2,357.3 L380.6,356.5 L380.9,355.8 L381.3,355.4 L381.6,355.1 L382.0,355.0 L382.4,355.1 L382.7,355.4 L383.1,355.8 L383.4,356.5 L383.8,357.3 L384.1,358.2 L384.4,359.2 L384.8,360.3 L385.1,361.4 L385.5,362.5 L385.8,363.6 L386.2,364.7 L386.2,364.7 Z" fill="#f0a22e"/>
<path d="M403.8,364.7 L403.8,364.7 L404.0,364.5 L404.3,364.3 L404.5,364.1 L404.8,363.9 L405.0,363.7 L405.2,363.6 L405.5,363.4 L405.7,363.3 L406.0,363.1 L406.2,363.1 L406.5,363.0 L406.7,363.0 L406.9,363.0 L407.2,363.1 L407.4,363.1 L407.7,363.3 L407.9,363.4 L408.2,363.6 L408.4,363.7 L408.6,363.9 L408.9,364.1 L409.1,364.3 L409.4,364.5 L409.6,364.7 L409.6,364.7 Z" fill="#f0a22e"/>
<line x1="288.5" y1="364.7" x2="464.5" y2="364.7" stroke="#777" stroke-width="0.9" />
<line x1="250.1" y1="315.7" x2="250.1" y2="366.8" stroke="#222" stroke-width="1" />
<text x="247.3" y="340" font-size="8.2" text-anchor="end" fill="#333333" stroke="#333333" stroke-width="0.18" font-weight="normal" font-style="normal" transform="translate(0 340) scale(1 1.08) translate(0 -340)" >Chromatin</text>
<text x="247.3" y="350.2" font-size="8.2" text-anchor="end" fill="#333333" stroke="#333333" stroke-width="0.18" font-weight="normal" font-style="normal" transform="translate(0 350.2) scale(1 1.08) translate(0 -350.2)" >accessibility</text>
<line x1="504.5" y1="353.5" x2="504.5" y2="300" stroke="#222" stroke-width="1" />
<polygon points="504.5,297.3 502.6,301.7 506.4,301.7" fill="#222"/>
<line x1="504.5" y1="353.5" x2="566.5" y2="353.5" stroke="#222" stroke-width="1" />
<polygon points="570.0,353.5 565.6,351.6 565.6,355.4" fill="#222"/>
<circle cx="563.7" cy="308.2" r="3" fill="#e9474f"/>
<circle cx="547.9" cy="317.9" r="3" fill="#a8287a"/>
<circle cx="521.9" cy="330.3" r="3" fill="#b37a45"/>
<circle cx="512.9" cy="346.8" r="3" fill="#f0a22e"/>
<text x="561.5" y="303" font-size="7.3" text-anchor="middle" fill="#222" stroke="#222" stroke-width="0.18" font-weight="normal" font-style="normal" transform="translate(0 303) scale(1 1.08) translate(0 -303)" >cell type 1</text>
<text x="557" y="328.5" font-size="7.3" text-anchor="middle" fill="#222" stroke="#222" stroke-width="0.18" font-weight="normal" font-style="normal" transform="translate(0 328.5) scale(1 1.08) translate(0 -328.5)" >cell type 2</text>
<line x1="586.5" y1="353.5" x2="586.5" y2="300" stroke="#222" stroke-width="1" />
<polygon points="586.5,297.3 584.6,301.7 588.4,301.7" fill="#222"/>
<line x1="586.5" y1="353.5" x2="648.5" y2="353.5" stroke="#222" stroke-width="1" />
<polygon points="652.0,353.5 647.6,351.6 647.6,355.4" fill="#222"/>
<circle cx="630.9" cy="331.0" r="3" fill="#e9474f"/>
<circle cx="621.7" cy="308.2" r="3" fill="#a8287a"/>
<circle cx="600.9" cy="324.6" r="3" fill="#b37a45"/>
<circle cx="611.0" cy="342.3" r="3" fill="#f0a22e"/>
<text x="642" y="305.2" font-size="7.3" text-anchor="middle" fill="#222" stroke="#222" stroke-width="0.18" font-weight="normal" font-style="normal" transform="translate(0 305.2) scale(1 1.08) translate(0 -305.2)" >cell type 2</text>
<text x="644.6" y="325.1" font-size="7.3" text-anchor="middle" fill="#222" stroke="#222" stroke-width="0.18" font-weight="normal" font-style="normal" transform="translate(0 325.1) scale(1 1.08) translate(0 -325.1)" >cell type 1</text>
<text x="534.3" y="288.2" font-size="8.2" text-anchor="middle" fill="#333333" stroke="#333333" stroke-width="0.18" font-weight="normal" font-style="normal" transform="translate(0 288.2) scale(1 1.08) translate(0 -288.2)" >Linked</text>
<text x="616.5" y="288.2" font-size="8.2" text-anchor="middle" fill="#333333" stroke="#333333" stroke-width="0.18" font-weight="normal" font-style="normal" transform="translate(0 288.2) scale(1 1.08) translate(0 -288.2)" >Not linked</text>
<text x="579.4" y="365.6" font-size="8.2" text-anchor="middle" fill="#333333" stroke="#333333" stroke-width="0.18" font-weight="normal" font-style="normal" transform="translate(0 365.6) scale(1 1.08) translate(0 -365.6)" >Promoter accessibility</text>
<text x="579.4" y="376.2" font-size="8.2" text-anchor="middle" fill="#333333" stroke="#333333" stroke-width="0.18" font-weight="normal" font-style="normal" transform="translate(0 376.2) scale(1 1.08) translate(0 -376.2)" >(or gene expression)</text>
<text x="485.4" y="327" font-size="8.2" fill="#333333" text-anchor="middle" transform="rotate(-90 485.4 327)">Enhancer</text>
<text x="496.2" y="327" font-size="8.2" fill="#333333" text-anchor="middle" transform="rotate(-90 496.2 327)">accessibility</text>
<text x="42" y="400.8" font-size="11" text-anchor="start" fill="#222" stroke="#222" stroke-width="0.18" font-weight="bold" font-style="normal" transform="translate(0 400.8) scale(1 1.08) translate(0 -400.8)" >F</text>
<text x="64.1" y="401.3" font-size="9.6" text-anchor="start" fill="#333333" stroke="#333333" stroke-width="0.18" font-weight="normal" font-style="normal" transform="translate(0 401.3) scale(1 1.08) translate(0 -401.3)"  textLength="295.4" lengthAdjust="spacingAndGlyphs">Partitioned heritability analysis of cell type contribution to disease risk</text>
<rect x="190" y="429.2" width="12" height="125.50000000000006" fill="#c2c2c2" stroke="none" stroke-width="1" />
<rect x="279.3" y="429.2" width="10.899999999999977" height="125.50000000000006" fill="#c2c2c2" stroke="none" stroke-width="1" />
<rect x="322.3" y="429.2" width="20.19999999999999" height="125.50000000000006" fill="#c2c2c2" stroke="none" stroke-width="1" />
<rect x="378.5" y="429.2" width="11.5" height="125.50000000000006" fill="#c2c2c2" stroke="none" stroke-width="1" />
<text x="85.5" y="442.6" font-size="8.5" text-anchor="middle" fill="#333333" stroke="#333333" stroke-width="0.18" font-weight="normal" font-style="normal" transform="translate(0 442.6) scale(1 1.08) translate(0 -442.6)" >Significance of</text>
<text x="85.5" y="452.90000000000003" font-size="8.5" text-anchor="middle" fill="#333333" stroke="#333333" stroke-width="0.18" font-weight="normal" font-style="normal" transform="translate(0 452.90000000000003) scale(1 1.08) translate(0 -452.90000000000003)" >genetic association</text>
<text x="85.5" y="463.20000000000005" font-size="8.5" text-anchor="middle" fill="#333333" stroke="#333333" stroke-width="0.18" font-weight="normal" font-style="normal" transform="translate(0 463.20000000000005) scale(1 1.08) translate(0 -463.20000000000005)" >with disease/</text>
<text x="85.5" y="473.5" font-size="8.5" text-anchor="middle" fill="#333333" stroke="#333333" stroke-width="0.18" font-weight="normal" font-style="normal" transform="translate(0 473.5) scale(1 1.08) translate(0 -473.5)" >phenotype from GWAS</text>
<text x="85.5" y="483.8" font-size="8.5" text-anchor="middle" fill="#333333">(–log<tspan font-size="4.5" dy="1.5">10</tspan><tspan dy="-1.5">[p-value])</tspan></text>
<text x="150.3" y="444" font-size="6.3" fill="#444" text-anchor="middle" transform="rotate(-90 150.3 444)">Significant</text>
<text x="158.4" y="443.2" font-size="6.3" fill="#444" text-anchor="middle" transform="rotate(-90 158.4 443.2)">(p&lt;5e-8)</text>
<text x="141.6" y="484.4" font-size="6.3" fill="#444" text-anchor="middle" transform="rotate(-90 141.6 484.4)">Non-</text>
<text x="150.3" y="482.1" font-size="6.3" fill="#444" text-anchor="middle" transform="rotate(-90 150.3 482.1)">significant</text>
<text x="157.2" y="482.2" font-size="6.3" fill="#444" text-anchor="middle" transform="rotate(-90 157.2 482.2)">(p&gt;5e-8)</text>
<line x1="164.5" y1="498.5" x2="164.5" y2="435" stroke="#111" stroke-width="1.1" />
<polygon points="164.5,431.5 162.4,436.4 166.6,436.4" fill="#111"/>
<line x1="164.5" y1="498.5" x2="473" y2="498.5" stroke="#111" stroke-width="1.2" />
<polygon points="477.8,498.5 472.6,496.3 472.6,500.7" fill="#111"/>
<line x1="134.6" y1="463.3" x2="476.3" y2="463.3" stroke="#555" stroke-width="0.8" stroke-dasharray="1.6,1.6"/>
<circle cx="193.6" cy="437.6" r="1.8" fill="#e8242c"/>
<circle cx="197.8" cy="452.6" r="1.8" fill="#e8242c"/>
<circle cx="282.9" cy="437.6" r="1.8" fill="#e8242c"/>
<circle cx="287.0" cy="452.6" r="1.8" fill="#e8242c"/>
<circle cx="325.6" cy="445.7" r="1.8" fill="#e8242c"/>
<circle cx="334.6" cy="454.6" r="1.8" fill="#e8242c"/>
<circle cx="339.5" cy="437.6" r="1.8" fill="#e8242c"/>
<circle cx="384.4" cy="454.6" r="1.8" fill="#e8242c"/>
<circle cx="168.9" cy="493.8" r="0.95" fill="#2a2a2a"/>
<circle cx="173.2" cy="490.5" r="0.95" fill="#2a2a2a"/>
<circle cx="177.3" cy="487.2" r="0.95" fill="#2a2a2a"/>
<circle cx="181.6" cy="492.5" r="0.95" fill="#2a2a2a"/>
<circle cx="185.4" cy="488.7" r="0.95" fill="#2a2a2a"/>
<circle cx="190.0" cy="471.4" r="0.95" fill="#2a2a2a"/>
<circle cx="201.9" cy="485.4" r="0.95" fill="#2a2a2a"/>
<circle cx="206.2" cy="489.2" r="0.95" fill="#2a2a2a"/>
<circle cx="210.3" cy="491.7" r="0.95" fill="#2a2a2a"/>
<circle cx="214.1" cy="488.7" r="0.95" fill="#2a2a2a"/>
<circle cx="218.4" cy="481.6" r="0.95" fill="#2a2a2a"/>
<circle cx="222.7" cy="490.5" r="0.95" fill="#2a2a2a"/>
<circle cx="226.5" cy="486.1" r="0.95" fill="#2a2a2a"/>
<circle cx="230.6" cy="491.7" r="0.95" fill="#2a2a2a"/>
<circle cx="234.4" cy="493.0" r="0.95" fill="#2a2a2a"/>
<circle cx="238.7" cy="489.2" r="0.95" fill="#2a2a2a"/>
<circle cx="239.2" cy="491.7" r="0.95" fill="#2a2a2a"/>
<circle cx="243.0" cy="490.5" r="0.95" fill="#2a2a2a"/>
<circle cx="243.0" cy="493.5" r="0.95" fill="#2a2a2a"/>
<circle cx="247.6" cy="488.7" r="0.95" fill="#2a2a2a"/>
<circle cx="251.9" cy="481.1" r="0.95" fill="#2a2a2a"/>
<circle cx="256.0" cy="488.7" r="0.95" fill="#2a2a2a"/>
<circle cx="259.5" cy="484.1" r="0.95" fill="#2a2a2a"/>
<circle cx="259.8" cy="493.0" r="0.95" fill="#2a2a2a"/>
<circle cx="263.6" cy="486.1" r="0.95" fill="#2a2a2a"/>
<circle cx="264.1" cy="490.5" r="0.95" fill="#2a2a2a"/>
<circle cx="267.9" cy="484.9" r="0.95" fill="#2a2a2a"/>
<circle cx="272.2" cy="481.6" r="0.95" fill="#2a2a2a"/>
<circle cx="276.3" cy="472.7" r="0.95" fill="#2a2a2a"/>
<circle cx="276.8" cy="476.0" r="0.95" fill="#2a2a2a"/>
<circle cx="281.1" cy="478.5" r="0.95" fill="#2a2a2a"/>
<circle cx="281.1" cy="492.5" r="0.95" fill="#2a2a2a"/>
<circle cx="284.9" cy="475.7" r="0.95" fill="#2a2a2a"/>
<circle cx="289.0" cy="479.8" r="0.95" fill="#2a2a2a"/>
<circle cx="292.5" cy="472.2" r="0.95" fill="#2a2a2a"/>
<circle cx="300.1" cy="472.2" r="0.95" fill="#2a2a2a"/>
<circle cx="300.9" cy="482.3" r="0.95" fill="#2a2a2a"/>
<circle cx="300.9" cy="485.4" r="0.95" fill="#2a2a2a"/>
<circle cx="300.9" cy="488.4" r="0.95" fill="#2a2a2a"/>
<circle cx="300.9" cy="492.5" r="0.95" fill="#2a2a2a"/>
<circle cx="305.2" cy="485.4" r="0.95" fill="#2a2a2a"/>
<circle cx="305.2" cy="489.7" r="0.95" fill="#2a2a2a"/>
<circle cx="309.3" cy="485.4" r="0.95" fill="#2a2a2a"/>
<circle cx="313.6" cy="482.8" r="0.95" fill="#2a2a2a"/>
<circle cx="317.4" cy="482.3" r="0.95" fill="#2a2a2a"/>
<circle cx="317.4" cy="490.5" r="0.95" fill="#2a2a2a"/>
<circle cx="321.2" cy="475.2" r="0.95" fill="#2a2a2a"/>
<circle cx="321.7" cy="476.5" r="0.95" fill="#2a2a2a"/>
<circle cx="326.3" cy="489.2" r="0.95" fill="#2a2a2a"/>
<circle cx="329.6" cy="476.5" r="0.95" fill="#2a2a2a"/>
<circle cx="330.1" cy="480.3" r="0.95" fill="#2a2a2a"/>
<circle cx="333.9" cy="472.7" r="0.95" fill="#2a2a2a"/>
<circle cx="333.9" cy="492.5" r="0.95" fill="#2a2a2a"/>
<circle cx="337.7" cy="476.5" r="0.95" fill="#2a2a2a"/>
<circle cx="341.7" cy="474.7" r="0.95" fill="#2a2a2a"/>
<circle cx="341.7" cy="491.7" r="0.95" fill="#2a2a2a"/>
<circle cx="337.9" cy="481.6" r="0.95" fill="#2a2a2a"/>
<circle cx="337.9" cy="490.5" r="0.95" fill="#2a2a2a"/>
<circle cx="350.6" cy="480.3" r="0.95" fill="#2a2a2a"/>
<circle cx="354.4" cy="492.5" r="0.95" fill="#2a2a2a"/>
<circle cx="358.7" cy="482.3" r="0.95" fill="#2a2a2a"/>
<circle cx="362.8" cy="491.7" r="0.95" fill="#2a2a2a"/>
<circle cx="364.1" cy="488.7" r="0.95" fill="#2a2a2a"/>
<circle cx="368.4" cy="491.7" r="0.95" fill="#2a2a2a"/>
<circle cx="372.2" cy="492.2" r="0.95" fill="#2a2a2a"/>
<circle cx="376.5" cy="488.7" r="0.95" fill="#2a2a2a"/>
<circle cx="380.6" cy="467.1" r="0.95" fill="#2a2a2a"/>
<circle cx="388.2" cy="472.7" r="0.95" fill="#2a2a2a"/>
<circle cx="393.0" cy="487.9" r="0.95" fill="#2a2a2a"/>
<circle cx="396.8" cy="493.0" r="0.95" fill="#2a2a2a"/>
<circle cx="400.9" cy="484.1" r="0.95" fill="#2a2a2a"/>
<circle cx="405.2" cy="488.7" r="0.95" fill="#2a2a2a"/>
<circle cx="409.0" cy="482.3" r="0.95" fill="#2a2a2a"/>
<circle cx="413.3" cy="492.5" r="0.95" fill="#2a2a2a"/>
<circle cx="417.4" cy="487.4" r="0.95" fill="#2a2a2a"/>
<circle cx="421.7" cy="487.9" r="0.95" fill="#2a2a2a"/>
<circle cx="425.5" cy="489.2" r="0.95" fill="#2a2a2a"/>
<circle cx="429.3" cy="486.1" r="0.95" fill="#2a2a2a"/>
<circle cx="433.6" cy="480.3" r="0.95" fill="#2a2a2a"/>
<circle cx="437.7" cy="486.1" r="0.95" fill="#2a2a2a"/>
<circle cx="442.0" cy="487.4" r="0.95" fill="#2a2a2a"/>
<circle cx="445.8" cy="489.7" r="0.95" fill="#2a2a2a"/>
<circle cx="449.6" cy="491.0" r="0.95" fill="#2a2a2a"/>
<circle cx="454.2" cy="486.1" r="0.95" fill="#2a2a2a"/>
<circle cx="458.5" cy="484.1" r="0.95" fill="#2a2a2a"/>
<circle cx="462.3" cy="489.7" r="0.95" fill="#2a2a2a"/>
<circle cx="466.6" cy="492.5" r="0.95" fill="#2a2a2a"/>
<circle cx="470.7" cy="482.3" r="0.95" fill="#2a2a2a"/>
<circle cx="475.0" cy="491.7" r="0.95" fill="#2a2a2a"/>
<text x="206" y="417.8" font-size="8.5" text-anchor="middle" fill="#333333" stroke="#333333" stroke-width="0.18" font-weight="normal" font-style="italic" transform="translate(0 417.8) scale(1 1.08) translate(0 -417.8)" >Gene A</text>
<line x1="191" y1="422.1" x2="245" y2="422.1" stroke="#111" stroke-width="1.4" />
<polygon points="248.5,422.1 244.3,420.3 244.3,423.9" fill="#111"/>
<rect x="191" y="419.8" width="16" height="4.6" fill="#111" stroke="none" stroke-width="1" />
<rect x="212" y="419.8" width="6.400000000000006" height="4.6" fill="#111" stroke="none" stroke-width="1" />
<rect x="222.2" y="419.8" width="14.0" height="4.6" fill="#111" stroke="none" stroke-width="1" />
<text x="387.5" y="417.8" font-size="8.5" text-anchor="middle" fill="#333333" stroke="#333333" stroke-width="0.18" font-weight="normal" font-style="italic" transform="translate(0 417.8) scale(1 1.08) translate(0 -417.8)" >Gene B</text>
<line x1="376.5" y1="422.1" x2="397" y2="422.1" stroke="#111" stroke-width="1.4" />
<polygon points="400.7,422.1 396.5,420.3 396.5,423.9" fill="#111"/>
<rect x="376.5" y="419.8" width="12" height="4.6" fill="#111" stroke="none" stroke-width="1" />
<text x="445" y="417.8" font-size="8.5" text-anchor="middle" fill="#333333" stroke="#333333" stroke-width="0.18" font-weight="normal" font-style="italic" transform="translate(0 417.8) scale(1 1.08) translate(0 -417.8)" >Gene C</text>
<line x1="427" y1="426.7" x2="462.3" y2="426.7" stroke="#111" stroke-width="1.4" />
<polygon points="423.6,426.7 427.8,424.9 427.8,428.5" fill="#111"/>
<rect x="435.7" y="424.4" width="8.8" height="4.6" fill="#111" stroke="none" stroke-width="1" />
<rect x="448.4" y="424.4" width="11.4" height="4.6" fill="#111" stroke="none" stroke-width="1" />
<path d="M194.3,519.4 L194.3,519.4 L194.9,518.0 L195.5,516.5 L196.0,515.0 L196.6,513.5 L197.2,512.1 L197.8,510.7 L198.4,509.5 L198.9,508.5 L199.5,507.6 L200.1,507.0 L200.7,506.6 L201.2,506.5 L201.8,506.6 L202.4,507.0 L203.0,507.6 L203.6,508.5 L204.1,509.5 L204.7,510.7 L205.3,512.1 L205.9,513.5 L206.5,515.0 L207.0,516.5 L207.6,518.0 L208.2,519.4 L208.2,519.4 Z" fill="#e9474f"/>
<path d="M214.0,519.4 L214.0,519.4 L214.2,518.6 L214.5,517.7 L214.7,516.9 L214.9,516.0 L215.2,515.2 L215.4,514.4 L215.7,513.7 L215.9,513.1 L216.1,512.6 L216.4,512.3 L216.6,512.1 L216.8,512.0 L217.1,512.1 L217.3,512.3 L217.6,512.6 L217.8,513.1 L218.0,513.7 L218.3,514.4 L218.5,515.2 L218.8,516.0 L219.0,516.9 L219.2,517.7 L219.5,518.6 L219.7,519.4 L219.7,519.4 Z" fill="#e9474f"/>
<path d="M226.5,519.4 L226.5,519.4 L227.1,519.0 L227.6,518.6 L228.2,518.2 L228.8,517.8 L229.3,517.4 L229.9,517.1 L230.4,516.7 L231.0,516.4 L231.6,516.2 L232.1,516.0 L232.7,515.9 L233.2,515.9 L233.8,515.9 L234.4,516.0 L234.9,516.2 L235.5,516.4 L236.1,516.7 L236.6,517.1 L237.2,517.4 L237.8,517.8 L238.3,518.2 L238.9,518.6 L239.4,519.0 L240.0,519.4 L240.0,519.4 Z" fill="#e9474f"/>
<path d="M281.9,519.4 L281.9,519.4 L282.1,518.0 L282.3,516.5 L282.5,515.0 L282.8,513.5 L283.0,512.1 L283.2,510.7 L283.4,509.5 L283.6,508.5 L283.8,507.6 L284.0,507.0 L284.2,506.6 L284.4,506.5 L284.7,506.6 L284.9,507.0 L285.1,507.6 L285.3,508.5 L285.5,509.5 L285.7,510.7 L285.9,512.1 L286.1,513.5 L286.4,515.0 L286.6,516.5 L286.8,518.0 L287.0,519.4 L287.0,519.4 Z" fill="#e9474f"/>
<path d="M299.6,519.4 L299.6,519.4 L300.0,519.1 L300.3,518.9 L300.7,518.6 L301.1,518.3 L301.5,518.0 L301.8,517.8 L302.2,517.6 L302.6,517.4 L302.9,517.2 L303.3,517.1 L303.7,517.0 L304.1,517.0 L304.4,517.0 L304.8,517.1 L305.2,517.2 L305.5,517.4 L305.9,517.6 L306.3,517.8 L306.6,518.0 L307.0,518.3 L307.4,518.6 L307.8,518.9 L308.1,519.1 L308.5,519.4 L308.5,519.4 Z" fill="#e9474f"/>
<path d="M323.2,519.4 L323.2,519.4 L323.5,518.7 L323.8,518.0 L324.1,517.3 L324.4,516.6 L324.7,515.9 L325.0,515.3 L325.3,514.7 L325.6,514.2 L325.9,513.8 L326.2,513.5 L326.5,513.4 L326.8,513.3 L327.0,513.4 L327.3,513.5 L327.6,513.8 L327.9,514.2 L328.2,514.7 L328.5,515.3 L328.8,515.9 L329.1,516.6 L329.4,517.3 L329.7,518.0 L330.0,518.7 L330.3,519.4 L330.3,519.4 Z" fill="#e9474f"/>
<path d="M334.1,519.4 L334.1,519.4 L334.4,518.0 L334.7,516.6 L335.1,515.2 L335.4,513.8 L335.7,512.4 L336.0,511.1 L336.3,509.9 L336.6,508.9 L336.9,508.1 L337.3,507.5 L337.6,507.1 L337.9,507.0 L338.2,507.1 L338.5,507.5 L338.9,508.1 L339.2,508.9 L339.5,509.9 L339.8,511.1 L340.1,512.4 L340.4,513.8 L340.8,515.2 L341.1,516.6 L341.4,518.0 L341.7,519.4 L341.7,519.4 Z" fill="#e9474f"/>
<path d="M379.0,519.4 L379.0,519.4 L379.6,518.5 L380.2,517.5 L380.9,516.6 L381.5,515.6 L382.1,514.7 L382.7,513.7 L383.3,512.8 L383.9,511.9 L384.6,511.1 L385.2,510.3 L385.8,509.6 L386.4,509.0 L387.0,508.5 L387.6,508.1 L388.2,507.9 L388.9,507.7 L389.5,507.7 L390.1,508.1 L390.7,509.2 L391.3,510.8 L391.9,512.8 L392.6,515.0 L393.2,517.2 L393.8,519.4 L393.8,519.4 Z" fill="#e9474f"/>
<path d="M237.0,534.5 L237.0,534.5 L237.3,534.0 L237.7,533.4 L238.0,532.9 L238.3,532.4 L238.7,531.8 L239.0,531.3 L239.3,530.9 L239.7,530.5 L240.0,530.2 L240.3,530.0 L240.7,529.8 L241.0,529.8 L241.3,529.8 L241.7,530.0 L242.0,530.2 L242.3,530.5 L242.7,530.9 L243.0,531.3 L243.3,531.8 L243.7,532.4 L244.0,532.9 L244.3,533.4 L244.7,534.0 L245.0,534.5 L245.0,534.5 Z" fill="#a8287a"/>
<path d="M298.4,534.5 L298.4,534.5 L299.0,533.1 L299.6,531.7 L300.1,530.4 L300.7,529.0 L301.3,527.9 L301.9,527.0 L302.5,526.3 L303.0,526.0 L303.6,526.0 L304.2,526.1 L304.8,526.3 L305.4,526.6 L305.9,527.0 L306.5,527.5 L307.1,528.0 L307.7,528.7 L308.2,529.3 L308.8,530.0 L309.4,530.8 L310.0,531.5 L310.6,532.3 L311.1,533.0 L311.7,533.8 L312.3,534.5 L312.3,534.5 Z" fill="#a8287a"/>
<path d="M334.0,534.5 L334.0,534.5 L334.3,534.2 L334.6,533.9 L335.0,533.6 L335.3,533.3 L335.6,533.0 L335.9,532.7 L336.2,532.4 L336.6,532.2 L336.9,532.0 L337.2,531.9 L337.5,531.8 L337.9,531.8 L338.2,531.8 L338.5,531.9 L338.8,532.0 L339.1,532.2 L339.5,532.4 L339.8,532.7 L340.1,533.0 L340.4,533.3 L340.7,533.6 L341.1,533.9 L341.4,534.2 L341.7,534.5 L341.7,534.5 Z" fill="#a8287a"/>
<path d="M437.0,534.5 L437.0,534.5 L437.3,534.0 L437.6,533.5 L437.9,533.0 L438.2,532.5 L438.6,532.0 L438.9,531.5 L439.2,531.1 L439.5,530.7 L439.8,530.4 L440.1,530.2 L440.4,530.0 L440.8,530.0 L441.1,530.0 L441.4,530.2 L441.7,530.4 L442.0,530.7 L442.3,531.1 L442.6,531.5 L442.9,532.0 L443.2,532.5 L443.6,533.0 L443.9,533.5 L444.2,534.0 L444.5,534.5 L444.5,534.5 Z" fill="#a8287a"/>
<path d="M449.0,534.5 L449.0,534.5 L449.4,533.4 L449.9,532.4 L450.3,531.3 L450.7,530.2 L451.1,529.1 L451.6,528.1 L452.0,527.2 L452.4,526.4 L452.9,525.8 L453.3,525.4 L453.7,525.1 L454.1,525.0 L454.6,525.1 L455.0,525.4 L455.4,525.8 L455.9,526.4 L456.3,527.2 L456.7,528.1 L457.2,529.1 L457.6,530.2 L458.0,531.3 L458.4,532.4 L458.9,533.4 L459.3,534.5 L459.3,534.5 Z" fill="#a8287a"/>
<path d="M281.0,534.5 L281.0,534.5 L281.3,534.3 L281.6,534.2 L281.9,534.0 L282.2,533.8 L282.5,533.7 L282.8,533.5 L283.0,533.4 L283.3,533.2 L283.6,533.1 L283.9,533.1 L284.2,533.0 L284.5,533.0 L284.8,533.0 L285.1,533.1 L285.4,533.1 L285.7,533.2 L286.0,533.4 L286.2,533.5 L286.5,533.7 L286.8,533.8 L287.1,534.0 L287.4,534.2 L287.7,534.3 L288.0,534.5 L288.0,534.5 Z" fill="#a8287a"/>
<path d="M236.2,549.3 L236.2,549.3 L236.6,547.9 L237.0,546.5 L237.4,545.1 L237.8,543.7 L238.2,542.3 L238.6,541.0 L239.0,539.8 L239.4,538.8 L239.8,538.0 L240.2,537.4 L240.6,537.0 L241.0,536.9 L241.4,537.0 L241.8,537.4 L242.2,538.0 L242.6,538.8 L243.0,539.8 L243.4,541.0 L243.8,542.3 L244.2,543.7 L244.6,545.1 L245.0,546.5 L245.4,547.9 L245.8,549.3 L245.8,549.3 Z" fill="#f0a22e"/>
<path d="M282.6,549.3 L282.6,549.3 L282.8,549.0 L283.0,548.8 L283.2,548.5 L283.3,548.3 L283.5,548.0 L283.7,547.8 L283.9,547.5 L284.1,547.3 L284.2,547.2 L284.4,547.1 L284.6,547.0 L284.8,547.0 L285.0,547.0 L285.2,547.1 L285.4,547.2 L285.5,547.3 L285.7,547.5 L285.9,547.8 L286.1,548.0 L286.3,548.3 L286.4,548.5 L286.6,548.8 L286.8,549.0 L287.0,549.3 L287.0,549.3 Z" fill="#f0a22e"/>
<path d="M334.0,549.3 L334.0,549.3 L334.3,549.0 L334.6,548.8 L335.0,548.5 L335.3,548.3 L335.6,548.0 L335.9,547.8 L336.2,547.5 L336.6,547.3 L336.9,547.2 L337.2,547.1 L337.5,547.0 L337.9,547.0 L338.2,547.0 L338.5,547.1 L338.8,547.2 L339.1,547.3 L339.5,547.5 L339.8,547.8 L340.1,548.0 L340.4,548.3 L340.7,548.5 L341.1,548.8 L341.4,549.0 L341.7,549.3 L341.7,549.3 Z" fill="#f0a22e"/>
<path d="M437.0,549.3 L437.0,549.3 L437.3,548.5 L437.6,547.8 L437.9,547.0 L438.2,546.2 L438.6,545.5 L438.9,544.7 L439.2,544.1 L439.5,543.5 L439.8,543.1 L440.1,542.8 L440.4,542.6 L440.8,542.5 L441.1,542.6 L441.4,542.8 L441.7,543.1 L442.0,543.5 L442.3,544.1 L442.6,544.7 L442.9,545.5 L443.2,546.2 L443.6,547.0 L443.9,547.8 L444.2,548.5 L444.5,549.3 L444.5,549.3 Z" fill="#f0a22e"/>
<path d="M449.6,549.3 L449.6,549.3 L450.0,547.9 L450.3,546.5 L450.7,545.1 L451.1,543.7 L451.5,542.3 L451.8,541.0 L452.2,539.8 L452.6,538.8 L452.9,538.0 L453.3,537.4 L453.7,537.0 L454.1,536.9 L454.4,537.0 L454.8,537.4 L455.2,538.0 L455.5,538.8 L455.9,539.8 L456.3,541.0 L456.6,542.3 L457.0,543.7 L457.4,545.1 L457.8,546.5 L458.1,547.9 L458.5,549.3 L458.5,549.3 Z" fill="#f0a22e"/>
<line x1="164.5" y1="519.4" x2="476.3" y2="519.4" stroke="#e9474f" stroke-width="1.8" />
<line x1="164.5" y1="534.5" x2="476.3" y2="534.5" stroke="#a8287a" stroke-width="1.8" />
<line x1="164.5" y1="549.3" x2="476.3" y2="549.3" stroke="#f0a22e" stroke-width="1.8" />
<line x1="164.2" y1="503.9" x2="164.2" y2="549.6" stroke="#111" stroke-width="1" />
<line x1="120.1" y1="511.6" x2="120.1" y2="548.4" stroke="#111" stroke-width="1" />
<text x="123.4" y="517.9" font-size="8.5" text-anchor="start" fill="#222" stroke="#222" stroke-width="0.18" font-weight="normal" font-style="normal" transform="translate(0 517.9) scale(1 1.08) translate(0 -517.9)" >cell type 1</text>
<text x="123.4" y="532.9" font-size="8.5" text-anchor="start" fill="#222" stroke="#222" stroke-width="0.18" font-weight="normal" font-style="normal" transform="translate(0 532.9) scale(1 1.08) translate(0 -532.9)" >cell type 2</text>
<text x="123.4" y="547.6" font-size="8.5" text-anchor="start" fill="#222" stroke="#222" stroke-width="0.18" font-weight="normal" font-style="normal" transform="translate(0 547.6) scale(1 1.08) translate(0 -547.6)" >cell type 3</text>
<text x="113.8" y="507.7" font-size="8.5" text-anchor="end" fill="#333333" stroke="#333333" stroke-width="0.18" font-weight="normal" font-style="normal" transform="translate(0 507.7) scale(1 1.08) translate(0 -507.7)" >Gene expression</text>
<text x="113.8" y="517.2" font-size="7.2" text-anchor="end" fill="#555" stroke="#555" stroke-width="0.18" font-weight="normal" font-style="normal" transform="translate(0 517.2) scale(1 1.08) translate(0 -517.2)" >(sc/snRNA-seq)</text>
<text x="113.8" y="527" font-size="8.5" text-anchor="end" fill="#555" stroke="#555" stroke-width="0.18" font-weight="normal" font-style="italic" transform="translate(0 527) scale(1 1.08) translate(0 -527)" >or</text>
<text x="113.8" y="537.4" font-size="8.5" text-anchor="end" fill="#333333" stroke="#333333" stroke-width="0.18" font-weight="normal" font-style="normal" transform="translate(0 537.4) scale(1 1.08) translate(0 -537.4)" >Chromatin</text>
<text x="113.8" y="547.6" font-size="8.5" text-anchor="end" fill="#333333" stroke="#333333" stroke-width="0.18" font-weight="normal" font-style="normal" transform="translate(0 547.6) scale(1 1.08) translate(0 -547.6)" >accessibility</text>
<text x="113.8" y="556.6" font-size="7.2" text-anchor="end" fill="#555" stroke="#555" stroke-width="0.18" font-weight="normal" font-style="normal" transform="translate(0 556.6) scale(1 1.08) translate(0 -556.6)" >(snATAC-seq)</text>
<text x="167.6" y="565.3" font-size="8.5" text-anchor="start" fill="#333333" stroke="#333333" stroke-width="0.18" font-weight="normal" font-style="normal" transform="translate(0 565.3) scale(1 1.08) translate(0 -565.3)" >Genome coordinate</text>
<line x1="417.4" y1="557.2" x2="442" y2="557.2" stroke="#111" stroke-width="0.9" />
<text x="429.5" y="567.8" font-size="8.5" text-anchor="middle" fill="#333333" stroke="#333333" stroke-width="0.18" font-weight="normal" font-style="normal" transform="translate(0 567.8) scale(1 1.08) translate(0 -567.8)" >1 Mbp</text>
<line x1="511.2" y1="497.8" x2="511.2" y2="553" stroke="#8a8a8a" stroke-width="1.1" />
<line x1="529" y1="497.8" x2="529" y2="553" stroke="#8a8a8a" stroke-width="1.1" />
<line x1="547.3" y1="497.8" x2="547.3" y2="553" stroke="#8a8a8a" stroke-width="1.1" />
<line x1="565.6" y1="497.8" x2="565.6" y2="553" stroke="#8a8a8a" stroke-width="1.1" />
<rect x="494" y="507.3" width="76.9" height="11.9" fill="#ec4a50" stroke="none" stroke-width="1" />
<rect x="494" y="523.8" width="5.8" height="11.9" fill="#a8287a" stroke="none" stroke-width="1" />
<rect x="494" y="540" width="5.8" height="12.2" fill="#f0a22e" stroke="none" stroke-width="1" />
<line x1="492.5" y1="497.6" x2="492.5" y2="554" stroke="#111" stroke-width="1.1" />
<line x1="492" y1="553.5" x2="580" y2="553.5" stroke="#111" stroke-width="1.1" />
<polygon points="584.5,553.5 579.8,551.5 579.8,555.5" fill="#111"/>
<text x="491.4" y="565.8" font-size="8.5" text-anchor="start" fill="#333333" stroke="#333333" stroke-width="0.18" font-weight="normal" font-style="normal" transform="translate(0 565.8) scale(1 1.08) translate(0 -565.8)" >Enrichment of disease-associated</text>
<text x="491.4" y="576" font-size="8.5" text-anchor="start" fill="#333333" stroke="#333333" stroke-width="0.18" font-weight="normal" font-style="normal" transform="translate(0 576) scale(1 1.08) translate(0 -576)" >variants in cell type-specific</text>
<text x="491.4" y="586.2" font-size="8.5" text-anchor="start" fill="#333333" stroke="#333333" stroke-width="0.18" font-weight="normal" font-style="normal" transform="translate(0 586.2) scale(1 1.08) translate(0 -586.2)" >genes or accessible chromatin</text>
</svg></body></html>
